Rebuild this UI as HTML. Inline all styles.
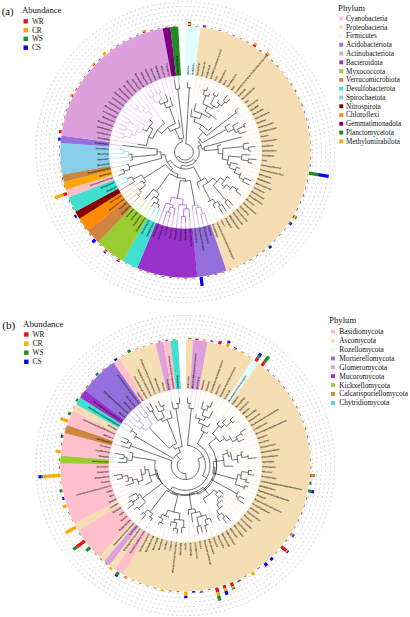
<!DOCTYPE html>
<html><head><meta charset="utf-8"><title>Figure</title>
<style>html,body{margin:0;padding:0;background:#fff;}svg{display:block;}text{font-family:"Liberation Serif",serif;}.tl text{font-family:"Liberation Sans",sans-serif;}</style></head>
<body>
<svg width="410" height="617" viewBox="0 0 410 617">
<g transform="translate(0 151.99) scale(1 1.0055) translate(0 -151.3)">
<g fill="none" stroke="#b4b4b4" stroke-width="0.6" stroke-dasharray="1.8 2.6">
<circle cx="185.3" cy="151.3" r="127.3"/>
<circle cx="185.3" cy="151.3" r="131.7"/>
<circle cx="185.3" cy="151.3" r="136.1"/>
<circle cx="185.3" cy="151.3" r="140.5"/>
<circle cx="185.3" cy="151.3" r="144.9"/>
<circle cx="185.3" cy="151.3" r="149.3"/>
</g>
<path d="M185.53 75L185.67 26.3A125 125 0 0 1 200.6 27.24L194.64 75.57A76.3 76.3 0 0 0 185.53 75Z" fill="#E0FFFF"/>
<path d="M194.56 75.56L200.47 27.22A125 125 0 0 1 226.35 269.37L210.35 223.37A76.3 76.3 0 0 0 194.56 75.56Z" fill="#F5DEB3"/>
<path d="M210.43 223.34L226.47 269.33A125 125 0 0 1 197.22 275.73L192.57 227.25A76.3 76.3 0 0 0 210.43 223.34Z" fill="#9370DB"/>
<path d="M192.65 227.24L197.35 275.72A125 125 0 0 1 137.2 266.68L155.94 221.73A76.3 76.3 0 0 0 192.65 227.24Z" fill="#9932CC"/>
<path d="M156.02 221.76L137.32 266.73A125 125 0 0 1 122.55 259.41L147 217.29A76.3 76.3 0 0 0 156.02 221.76Z" fill="#40E0D0"/>
<path d="M147.07 217.33L122.67 259.48A125 125 0 0 1 98.11 240.87L132.08 205.97A76.3 76.3 0 0 0 147.07 217.33Z" fill="#9ACD32"/>
<path d="M132.13 206.03L98.2 240.96A125 125 0 0 1 87.98 229.74L125.89 199.18A76.3 76.3 0 0 0 132.13 206.03Z" fill="#CD853F"/>
<path d="M125.95 199.24L88.06 229.85A125 125 0 0 1 79.37 217.67L120.64 191.81A76.3 76.3 0 0 0 125.95 199.24Z" fill="#FF8C00"/>
<path d="M120.69 191.88L79.44 217.78A125 125 0 0 1 75.31 210.7L118.16 187.55A76.3 76.3 0 0 0 120.69 191.88Z" fill="#8B0000"/>
<path d="M118.2 187.63L75.38 210.81A125 125 0 0 1 68.66 196.24L114.1 178.73A76.3 76.3 0 0 0 118.2 187.63Z" fill="#40E0D0"/>
<path d="M114.13 178.81L68.7 196.36A125 125 0 0 1 66 188.62L112.48 174.08A76.3 76.3 0 0 0 114.13 178.81Z" fill="#FFC0CB"/>
<path d="M112.5 174.15L66.04 188.74A125 125 0 0 1 63.89 181.05L111.19 169.46A76.3 76.3 0 0 0 112.5 174.15Z" fill="#FFA500"/>
<path d="M111.21 169.54L63.92 181.18A125 125 0 0 1 62.34 173.8L110.25 165.03A76.3 76.3 0 0 0 111.21 169.54Z" fill="#CD853F"/>
<path d="M110.26 165.11L62.37 173.93A125 125 0 0 1 60.62 142.3L109.2 145.8A76.3 76.3 0 0 0 110.26 165.11Z" fill="#87CEEB"/>
<path d="M109.19 145.88L60.62 142.43A125 125 0 0 1 61.38 134.92L109.66 141.3A76.3 76.3 0 0 0 109.19 145.88Z" fill="#9370DB"/>
<path d="M109.65 141.38L61.36 135.05A125 125 0 0 1 162.8 28.34L171.57 76.25A76.3 76.3 0 0 0 109.65 141.38Z" fill="#DDA0DD"/>
<path d="M171.49 76.26L162.67 28.37A125 125 0 0 1 170.35 27.2L176.17 75.55A76.3 76.3 0 0 0 171.49 76.26Z" fill="#800080"/>
<path d="M176.09 75.56L170.22 27.21A125 125 0 0 1 178.17 26.5L180.95 75.12A76.3 76.3 0 0 0 176.09 75.56Z" fill="#228B22"/>
<path d="M187.6 81.9L187.85 74.54M191.2 87.67L192.39 74.83" fill="none" stroke="#EAFFFF" stroke-width="0.6"/>
<path d="M191.92 108.29L196.98 75.39M195.8 102.9L201.59 76.25M202.74 89.43L206.13 77.38M207.71 87.07L210.6 78.79M209.5 93.52L214.97 80.46M214.42 92.19L219.24 82.41M218.28 93.52L223.38 84.6M219.1 99.68L227.37 87.05M227.49 94.72L231.21 89.73M229.7 98.77L234.88 92.65M216.35 118.81L238.36 95.78M212.24 126.35L241.65 99.12M238.66 107.61L244.73 102.65M237.41 113.7L247.58 106.36M229.56 123.3L250.2 110.24M237.97 122.32L252.59 114.28M245.47 122.83L254.72 118.45M245.12 127.34L256.59 122.74M246.13 131.14L258.2 127.14M241.66 136.37L259.54 131.63M221.1 144.12L260.6 136.19M249.04 142.51L261.38 140.81M255.05 145.99L261.88 145.47M251.24 150.31L262.09 150.15M249.96 154.28L262.02 154.84M256.48 158.95L261.66 159.51M252.1 162.63L261.02 164.15M237.78 163.54L260.09 168.74M239.94 167.61L258.89 173.27M241.15 171.75L257.42 177.71M251.27 180.14L255.67 182.06M249.39 184.11L253.66 186.29M229.97 177.72L251.4 190.4M238.23 187.13L248.9 194.35M241.22 194.36L246.15 198.15M229.17 189.55L243.18 201.77M222.68 188.14L240 205.21M233.15 204.59L236.61 208.44M229.94 207.57L233.03 211.47M226.52 210.33L229.27 214.26M222.33 211.88L225.35 216.83M214.94 207.2L221.28 219.15M207.83 200.87L217.08 221.22M199.28 187.82L212.76 223.02" fill="none" stroke="#F8E9CD" stroke-width="0.6"/>
<path d="M206.69 219.19L208.38 224.55M202.32 219.26L203.96 225.8M197.23 214.84L199.48 226.78M192.65 209.4L194.94 227.49M122.48 144.92L108.89 143.54" fill="none" stroke="#B8A2E7" stroke-width="0.6"/>
<path d="M189.53 216.01L190.31 227.94M185.58 221.25L185.61 228.1M181.48 218.01L180.9 227.97M178.8 205.88L176.21 227.56M173.77 214.68L171.56 226.86M169.44 215.78L166.96 225.88M164.95 216.52L162.42 224.61M163.33 209.01L157.97 223.07" fill="none" stroke="#BC79DD" stroke-width="0.6"/>
<path d="M157.22 212.99L153.48 221.2M152.05 213.24L148.98 218.97M120.91 183.51L116.61 185.66M121.9 178.11L114.57 181.22" fill="none" stroke="#82EAE0" stroke-width="0.6"/>
<path d="M151.57 205.57L144.76 216.53M151.6 198.74L140.82 213.91M141.37 205.72L137.06 211.06M141.96 198.7L133.48 207.98" fill="none" stroke="#BDDE79" stroke-width="0.6"/>
<path d="M133.57 201.38L130.12 204.72M133.14 196.05L127.01 201.3M126.49 163.91L110.21 167.4" fill="none" stroke="#DEAF82" stroke-width="0.6"/>
<path d="M138 187.2L124.13 197.73M139.58 181.91L121.48 194.02" fill="none" stroke="#FFB459" stroke-width="0.6"/>
<path d="M128.3 184.54L118.96 189.99" fill="none" stroke="#B35959" stroke-width="0.6"/>
<path d="M118.49 174.63L112.79 176.62" fill="none" stroke="#FFD6DD" stroke-width="0.6"/>
<path d="M121.27 169.18L111.33 171.95" fill="none" stroke="#FFC459" stroke-width="0.6"/>
<path d="M129.93 159.66L109.36 162.77M120 156.97L108.79 157.94M120.95 152.8L108.52 153.09M120.25 148.7L108.56 148.23" fill="none" stroke="#B1DFF2" stroke-width="0.6"/>
<path d="M137.52 143.55L109.49 139M119.47 136.53L110.36 134.48M120.34 132.57L111.51 130.02M117.95 127.43L112.91 125.64M119.2 123.31L114.58 121.35M124.46 121.12L116.5 117.17M125.1 116.8L118.67 113.11M140.02 121.61L121.07 109.19M143.62 120.26L123.71 105.42M131.7 106.13L126.57 101.81M136.93 105.32L129.64 98.39M143.38 106.37L132.91 95.15M146.31 104.14L136.36 92.11M162.11 119.56L140 89.29M147.73 92.82L143.79 86.68M150.3 88.88L147.73 84.31M153.91 86.5L151.81 82.18M159.58 88.96L156.01 80.3M165.52 93.8L160.32 78.68M170.13 96.79L164.71 77.31M178.43 119.31L169.18 76.21" fill="none" stroke="#E8C1E8" stroke-width="0.6"/>
<path d="M174.56 80.72L173.75 75.37" fill="none" stroke="#AC59AC" stroke-width="0.6"/>
<path d="M179.34 84.55L178.47 74.8" fill="none" stroke="#6FB36F" stroke-width="0.6"/>
<path d="M185.8 143.32A8 8 0 1 1 178.54 155.57M185.8 143.32L189.31 87.53M187.42 87.43A63.9 63.9 0 0 1 191.2 87.67M187.42 87.43L187.6 81.9M178.54 155.57L176.22 157.04M193.43 158.33A10.74 10.74 0 1 1 182.45 140.94M193.43 158.33L195.75 160.33M197.93 145.7A13.81 13.81 0 0 1 181.58 164.6M197.93 145.7L200.85 144.4M198.66 140.76A17.01 17.01 0 0 1 202.08 148.48M198.66 140.76L200.35 139.43M198.14 137.07A19.16 19.16 0 0 1 202.13 142.13M198.14 137.07L203.27 131.38M199.39 128.47A26.83 26.83 0 0 1 206.57 134.94M199.39 128.47L201.79 124.58M194.03 121.14A31.4 31.4 0 0 1 208.34 129.97M194.03 121.14L195.26 116.91M190.75 115.91A35.8 35.8 0 0 1 199.6 118.48M190.75 115.91L191.92 108.29M199.6 118.48L201.94 113.13M194.13 110.61A41.64 41.64 0 0 1 209.09 117.13M194.13 110.61L195.8 102.9M209.09 117.13L210.98 114.43M205 110.92A44.93 44.93 0 0 1 216.35 118.81M205 110.92L207.62 105.56M202.8 103.51A50.89 50.89 0 0 1 212.2 108.09M202.8 103.51L205.88 95.08M203.29 94.19A59.87 59.87 0 0 1 208.43 96.08M203.29 94.19L204.62 89.99M202.74 89.43A64.28 64.28 0 0 1 206.48 90.61M206.48 90.61L207.71 87.07M208.43 96.08L209.5 93.52M212.2 108.09L213.77 105.57M210.57 103.73A53.87 53.87 0 0 1 216.84 107.63M210.57 103.73L215.04 95.3M213.32 94.42A63.41 63.41 0 0 1 216.74 96.23M213.32 94.42L214.42 92.19M216.74 96.23L218.28 93.52M216.84 107.63L219.57 103.85M217.36 102.34A58.53 58.53 0 0 1 221.7 105.47M217.36 102.34L219.1 99.68M221.7 105.47L224.86 101.5M223.32 100.31A63.6 63.6 0 0 1 226.36 102.73M223.32 100.31L227.49 94.72M226.36 102.73L229.7 98.77M208.34 129.97L212.24 126.35M206.57 134.94L236.24 112.13M235.02 110.59A64.26 64.26 0 0 1 237.41 113.7M235.02 110.59L238.66 107.61M202.13 142.13L226.39 128.9M224.85 126.28A46.8 46.8 0 0 1 227.75 131.6M224.85 126.28L229.56 123.3M227.75 131.6L234.17 128.63M232.5 125.33A53.87 53.87 0 0 1 235.61 132.03M232.5 125.33L237.97 122.32M235.61 132.03L238.58 130.9M237.59 128.48A57.05 57.05 0 0 1 239.45 133.35M237.59 128.48L244.36 125.53M243.54 123.74A64.44 64.44 0 0 1 245.12 127.34M243.54 123.74L245.47 122.83M239.45 133.35L246.13 131.14M202.08 148.48L204.43 148.08M204.06 146.33A19.4 19.4 0 0 1 204.65 149.86M204.06 146.33L241.66 136.37M204.65 149.86L218.16 148.85M217.61 144.82A32.95 32.95 0 0 1 218.21 152.91M217.61 144.82L221.1 144.12M218.21 152.91L222.81 153.14M222.7 147.88A37.55 37.55 0 0 1 222.19 158.36M222.7 147.88L243.37 145.99M243.07 143.34A58.32 58.32 0 0 1 243.56 148.65M243.07 143.34L249.04 142.51M243.56 148.65L248.77 148.41M248.65 146.48A63.54 63.54 0 0 1 248.83 150.35M248.65 146.48L255.05 145.99M248.83 150.35L251.24 150.31M222.19 158.36L228.13 159.49M228.72 155.3A43.6 43.6 0 0 1 227.13 163.61M228.72 155.3L241.66 156.49M241.84 153.91A56.6 56.6 0 0 1 241.36 159.06M241.84 153.91L249.96 154.28M241.36 159.06L248.28 160.02M248.52 158.09A63.58 63.58 0 0 1 247.98 161.94M248.52 158.09L256.48 158.95M247.98 161.94L252.1 162.63M227.13 163.61L230.08 164.48M230.76 161.9A46.68 46.68 0 0 1 229.26 167.02M230.76 161.9L237.78 163.54M229.26 167.02L235.44 169.23M236.33 166.53A53.25 53.25 0 0 1 234.41 171.88M236.33 166.53L239.94 167.61M234.41 171.88L240.15 174.29M241.15 171.75A59.47 59.47 0 0 1 239.04 176.77M239.04 176.77L243.48 178.88M244.3 177.09A64.39 64.39 0 0 1 242.61 180.64M244.3 177.09L251.27 180.14M242.61 180.64L249.39 184.11M181.58 164.6L180.74 167.61M193.54 166.1A16.94 16.94 0 0 1 170.58 159.68M193.54 166.1L201.06 179.6M204.92 177.07A32.39 32.39 0 0 1 196.88 181.55M204.92 177.07L208.3 181.52M213.1 177.17A37.97 37.97 0 0 1 202.84 184.98M213.1 177.17L217.04 180.85M220.36 176.83A43.37 43.37 0 0 1 213.28 184.44M220.36 176.83L224.47 179.83M227.01 175.97A48.46 48.46 0 0 1 221.58 183.43M227.01 175.97L229.97 177.72M221.58 183.43L224.59 186.09M226.39 183.94A52.48 52.48 0 0 1 222.68 188.14M226.39 183.94L230.87 187.5M232.48 185.38A58.2 58.2 0 0 1 229.17 189.55M232.48 185.38L237.11 188.73M238.23 187.13A63.92 63.92 0 0 1 235.95 190.29M235.95 190.29L241.22 194.36M213.28 184.44L226.28 199.84M227.74 198.57A63.52 63.52 0 0 1 224.78 201.07M227.74 198.57L233.15 204.59M224.78 201.07L229.94 207.57M202.84 184.98L210.44 199.59M212.98 198.18A54.45 54.45 0 0 1 207.83 200.87M212.98 198.18L215.25 202.02M217.53 200.59A58.9 58.9 0 0 1 212.89 203.33M217.53 200.59L220.06 204.46M221.67 203.37A63.52 63.52 0 0 1 218.43 205.5M221.67 203.37L226.52 210.33M218.43 205.5L222.33 211.88M212.89 203.33L214.94 207.2M196.88 181.55L199.28 187.82M170.58 159.68L167.44 161.46M172.65 167.49A20.55 20.55 0 0 1 164.92 153.91M172.65 167.49L170.98 169.63M178.05 173.41A23.26 23.26 0 0 1 165.6 163.68M178.05 173.41L177.02 176.58M185.38 177.9A26.6 26.6 0 0 1 169.49 172.69M185.38 177.9L185.39 180.24M190.43 179.78A28.94 28.94 0 0 1 180.34 179.81M190.43 179.78L194.87 204.44M180.34 179.81L177.26 197.5M169.49 172.69L156.28 190.57M159.25 192.6A48.83 48.83 0 0 1 153.47 188.33M159.25 192.6L156.35 197.19M158.91 198.7A54.25 54.25 0 0 1 153.88 195.53M158.91 198.7L156.75 202.59M159.25 203.9A58.7 58.7 0 0 1 154.31 201.15M159.25 203.9L157.86 206.7M154.31 201.15L151.57 205.57M153.88 195.53L151.6 198.74M153.47 188.33L144.8 198.43M165.6 163.68L143.68 177.45M145.93 180.74A49.15 49.15 0 0 1 141.7 174M145.93 180.74L143.78 182.35M145.45 184.47A51.84 51.84 0 0 1 142.22 180.14M145.45 184.47L139.66 189.29M141.42 191.3A59.38 59.38 0 0 1 138 187.2M141.42 191.3L138.16 194.27M142.22 180.14L139.58 181.91M141.7 174L133.17 178.44M134.53 180.91A58.78 58.78 0 0 1 131.92 175.91M134.53 180.91L128.3 184.54M131.92 175.91L127 178.17M164.92 153.91L161.1 154.39M161.71 157.52A24.39 24.39 0 0 1 160.91 151.22M161.71 157.52L129.15 166.1M129.9 168.69A58.07 58.07 0 0 1 128.52 163.47M129.9 168.69L124.05 170.53M124.69 172.47A64.2 64.2 0 0 1 123.47 168.56M124.69 172.47L118.49 174.63M123.47 168.56L121.27 169.18M128.52 163.47L126.49 163.91M160.91 151.22L157.04 151.21M157.17 153.97A28.26 28.26 0 0 1 157.18 148.44M157.17 153.97L131.98 156.35M132.34 159.3A53.56 53.56 0 0 1 131.78 153.4M132.34 159.3L129.93 159.66M131.78 153.4L128.58 153.52M157.18 148.44L122.48 144.92M182.45 140.94L181.56 137.72M179.59 138.43A14.08 14.08 0 0 1 183.61 137.32M179.59 138.43L175.18 128.47M170.73 131.02A24.97 24.97 0 0 1 180.06 126.89M170.73 131.02L167.81 126.96M161.68 132.85A29.97 29.97 0 0 1 175.34 123.03M161.68 132.85L157.51 129.59M152.63 138A35.27 35.27 0 0 1 164.49 122.82M152.63 138L148.7 136.4M146.29 144.97A39.52 39.52 0 0 1 152.96 128.59M146.29 144.97L137.52 143.55M152.96 128.59L149.41 126.1M146.61 130.64A43.86 43.86 0 0 1 152.73 121.93M146.61 130.64L142.88 128.65M152.73 121.93L149.47 118.98M164.49 122.82L162.11 119.56M175.34 123.03L169.45 106.33M166.46 107.5A47.68 47.68 0 0 1 172.52 105.36M166.46 107.5L164.21 102.27M160.6 103.99A53.37 53.37 0 0 1 167.94 100.83M160.6 103.99L158.86 100.66M167.94 100.83L165.52 93.8M172.52 105.36L170.13 96.79M180.06 126.89L178.43 119.31M183.61 137.32L177.76 88.8M175.83 89.06A62.96 62.96 0 0 1 179.7 88.59M175.83 89.06L174.56 80.72M179.7 88.59L179.34 84.55" fill="none" stroke="#222" stroke-width="0.64" stroke-linejoin="miter"/>
<path d="M197.63 203.86A53.99 53.99 0 0 1 192.08 204.86M197.63 203.86L198.27 206.57M200.73 205.93A56.77 56.77 0 0 1 195.78 207.09M200.73 205.93L202.66 212.76M204.49 212.21A63.86 63.86 0 0 1 200.82 213.25M204.49 212.21L206.69 219.19M200.82 213.25L202.32 219.26M195.78 207.09L197.23 214.84M192.08 204.86L192.65 209.4" fill="none" stroke="#9370DB" stroke-width="0.64"/>
<path d="M182.97 198.14A46.9 46.9 0 0 1 171.67 196.17M182.97 198.14L182.69 203.92M186.32 203.98A52.69 52.69 0 0 1 179.07 203.62M186.32 203.98L186.4 207.93M189 207.82A56.64 56.64 0 0 1 183.79 207.92M189 207.82L189.53 216.01M183.79 207.92L183.59 215.37M185.56 215.39A64.09 64.09 0 0 1 181.63 215.29M185.56 215.39L185.58 221.25M181.63 215.29L181.48 218.01M179.07 203.62L178.8 205.88M171.67 196.17L169.53 203.24M173.14 204.2A54.28 54.28 0 0 1 165.99 202.03M173.14 204.2L172.56 206.76M175.12 207.28A56.9 56.9 0 0 1 170.02 206.11M175.12 207.28L173.77 214.68M170.02 206.11L168.65 211.04M170.49 211.52A62.01 62.01 0 0 1 166.83 210.5M170.49 211.52L169.44 215.78M166.83 210.5L164.95 216.52M165.99 202.03L163.33 209.01" fill="none" stroke="#9932CC" stroke-width="0.64"/>
<path d="M159.69 207.57A61.83 61.83 0 0 1 156.06 205.78M159.69 207.57L157.22 212.99M156.06 205.78L152.05 213.24M127.89 180.02A64.19 64.19 0 0 1 126.18 176.3M127.89 180.02L120.91 183.51M126.18 176.3L121.9 178.11" fill="none" stroke="#40E0D0" stroke-width="0.64"/>
<path d="M146.27 199.65A62.14 62.14 0 0 1 143.37 197.16M146.27 199.65L141.37 205.72M143.37 197.16L141.96 198.7" fill="none" stroke="#9ACD32" stroke-width="0.64"/>
<path d="M139.48 195.67A63.78 63.78 0 0 1 136.89 192.83M139.48 195.67L133.57 201.38M136.89 192.83L133.14 196.05" fill="none" stroke="#CD853F" stroke-width="0.64"/>
<path d="M128.75 156.21A56.76 56.76 0 0 1 128.54 150.83M128.75 156.21L120 156.97M128.54 150.83L123.71 150.79M123.73 152.74A61.59 61.59 0 0 1 123.76 148.84M123.73 152.74L120.95 152.8M123.76 148.84L120.25 148.7" fill="none" stroke="#87CEEB" stroke-width="0.64"/>
<path d="M141.02 132.55A48.09 48.09 0 0 1 145.08 124.93M141.02 132.55L136.55 130.66M134.9 135.12A52.94 52.94 0 0 1 138.6 126.37M134.9 135.12L131.12 133.91M130.18 137.18A56.9 56.9 0 0 1 132.26 130.69M130.18 137.18L123.96 135.59M123.52 137.43A63.32 63.32 0 0 1 124.46 133.76M123.52 137.43L119.47 136.53M124.46 133.76L120.34 132.57M132.26 130.69L126.08 128.29M125.42 130.08A63.53 63.53 0 0 1 126.8 126.53M125.42 130.08L117.95 127.43M126.8 126.53L119.2 123.31M138.6 126.37L129.22 121.36M128.35 123.05A63.57 63.57 0 0 1 130.14 119.69M128.35 123.05L124.46 121.12M130.14 119.69L125.1 116.8M145.08 124.93L140.02 121.61M146.6 122.47A48.25 48.25 0 0 1 152.65 115.77M146.6 122.47L143.62 120.26M152.65 115.77L148.26 111M146.19 112.99A54.74 54.74 0 0 1 150.42 109.11M146.19 112.99L143.21 110.07M141.4 112A58.92 58.92 0 0 1 145.11 108.22M141.4 112L137.44 108.46M136.18 109.91A64.24 64.24 0 0 1 138.74 107.04M136.18 109.91L131.7 106.13M138.74 107.04L136.93 105.32M145.11 108.22L143.38 106.37M150.42 109.11L146.31 104.14M155.88 102.33A57.13 57.13 0 0 1 161.94 99.17M155.88 102.33L152.34 96.44M150.71 97.45A64 64 0 0 1 154 95.48M150.71 97.45L147.73 92.82M154 95.48L150.3 88.88M161.94 99.17L159.04 92.69M157.3 93.5A64.22 64.22 0 0 1 160.81 91.93M157.3 93.5L153.91 86.5M160.81 91.93L159.58 88.96" fill="none" stroke="#DDA0DD" stroke-width="0.64"/>
<g class="tl" font-size="2.4" font-weight="bold" fill="#0a0a0a">
<text transform="translate(187.85 74.44) rotate(-88.1)" y="0.8" textLength="9" lengthAdjust="spacingAndGlyphs">Bacillus</text>
<text transform="translate(192.4 74.73) rotate(-84.7)" y="0.8" textLength="12" lengthAdjust="spacingAndGlyphs">Bradyrhizo</text>
<text transform="translate(197 75.29) rotate(-81.25)" y="0.8" textLength="13" lengthAdjust="spacingAndGlyphs">Novosphingo</text>
<text transform="translate(201.61 76.15) rotate(-77.76)" y="0.8" textLength="15" lengthAdjust="spacingAndGlyphs">Anaeromyxoba</text>
<text transform="translate(206.16 77.28) rotate(-74.26)" y="0.8" textLength="13" lengthAdjust="spacingAndGlyphs">Bradyrhizob</text>
<text transform="translate(210.63 78.69) rotate(-70.77)" y="0.8" textLength="31" lengthAdjust="spacingAndGlyphs">Ellin6067lysobacternocardi</text>
<text transform="translate(215.01 80.37) rotate(-67.27)" y="0.8" textLength="5" lengthAdjust="spacingAndGlyphs">Pseu</text>
<text transform="translate(219.28 82.32) rotate(-63.77)" y="0.8" textLength="14" lengthAdjust="spacingAndGlyphs">MND1mnd1novo</text>
<text transform="translate(223.42 84.52) rotate(-60.28)" y="0.8" textLength="6" lengthAdjust="spacingAndGlyphs">Nitro</text>
<text transform="translate(227.43 86.96) rotate(-56.78)" y="0.8" textLength="16" lengthAdjust="spacingAndGlyphs">Flavobacteriu</text>
<text transform="translate(231.27 89.65) rotate(-53.29)" y="0.8" textLength="5" lengthAdjust="spacingAndGlyphs">Mass</text>
<text transform="translate(234.94 92.57) rotate(-49.79)" y="0.8" textLength="48" lengthAdjust="spacingAndGlyphs">Lysobacterhaliangiumrhodanobactersteroid</text>
<text transform="translate(238.43 95.71) rotate(-46.3)" y="0.8" textLength="10" lengthAdjust="spacingAndGlyphs">Haliangi</text>
<text transform="translate(241.72 99.05) rotate(-42.8)" y="0.8" textLength="17" lengthAdjust="spacingAndGlyphs">Nocardioidesst</text>
<text transform="translate(244.8 102.59) rotate(-39.31)" y="0.8" textLength="5" lengthAdjust="spacingAndGlyphs">Ster</text>
<text transform="translate(247.66 106.3) rotate(-35.81)" y="0.8" textLength="13" lengthAdjust="spacingAndGlyphs">Nitrospirar</text>
<text transform="translate(250.29 110.19) rotate(-32.32)" y="0.8" textLength="9.5" lengthAdjust="spacingAndGlyphs">Ellin606</text>
<text transform="translate(252.67 114.23) rotate(-28.82)" y="0.8" textLength="12" lengthAdjust="spacingAndGlyphs">Bacillusde</text>
<text transform="translate(254.81 118.41) rotate(-25.32)" y="0.8" textLength="16" lengthAdjust="spacingAndGlyphs">Steroidobacte</text>
<text transform="translate(256.69 122.7) rotate(-21.83)" y="0.8" textLength="10" lengthAdjust="spacingAndGlyphs">Ramlibac</text>
<text transform="translate(258.3 127.11) rotate(-18.33)" y="0.8" textLength="16" lengthAdjust="spacingAndGlyphs">Nitrospiradev</text>
<text transform="translate(259.64 131.61) rotate(-14.84)" y="0.8" textLength="17.5" lengthAdjust="spacingAndGlyphs">Geobacterhalian</text>
<text transform="translate(260.7 136.17) rotate(-11.34)" y="0.8" textLength="8" lengthAdjust="spacingAndGlyphs">Bacillu</text>
<text transform="translate(261.48 140.8) rotate(-7.85)" y="0.8" textLength="15.29" lengthAdjust="spacingAndGlyphs">Gaiellalysoba</text>
<text transform="translate(261.98 145.46) rotate(-4.35)" y="0.8" textLength="11.47" lengthAdjust="spacingAndGlyphs">Ramlibacte</text>
<text transform="translate(262.19 150.15) rotate(-0.86)" y="0.8" textLength="14.11" lengthAdjust="spacingAndGlyphs">Gaiellamnd1m</text>
<text transform="translate(262.12 154.84) rotate(2.64)" y="0.8" textLength="12" lengthAdjust="spacingAndGlyphs">Ellin6067m</text>
<text transform="translate(261.76 159.52) rotate(6.13)" y="0.8" textLength="5" lengthAdjust="spacingAndGlyphs">Arth</text>
<text transform="translate(261.12 164.16) rotate(9.63)" y="0.8" textLength="20" lengthAdjust="spacingAndGlyphs">Anaeromyxobacterm</text>
<text transform="translate(260.19 168.76) rotate(13.13)" y="0.8" textLength="24" lengthAdjust="spacingAndGlyphs">Anaeromyxobactermyco</text>
<text transform="translate(258.99 173.3) rotate(16.62)" y="0.8" textLength="13" lengthAdjust="spacingAndGlyphs">Nitrospiran</text>
<text transform="translate(257.51 177.75) rotate(20.12)" y="0.8" textLength="14" lengthAdjust="spacingAndGlyphs">Gaiellastero</text>
<text transform="translate(255.76 182.1) rotate(23.61)" y="0.8" textLength="17" lengthAdjust="spacingAndGlyphs">Mesorhizobiumm</text>
<text transform="translate(253.75 186.34) rotate(27.11)" y="0.8" textLength="12" lengthAdjust="spacingAndGlyphs">Lysobacter</text>
<text transform="translate(251.49 190.45) rotate(30.6)" y="0.8" textLength="15" lengthAdjust="spacingAndGlyphs">Bacillusster</text>
<text transform="translate(248.98 194.41) rotate(34.1)" y="0.8" textLength="16" lengthAdjust="spacingAndGlyphs">Ellin6067rhod</text>
<text transform="translate(246.23 198.21) rotate(37.59)" y="0.8" textLength="10" lengthAdjust="spacingAndGlyphs">Mesorhiz</text>
<text transform="translate(243.26 201.84) rotate(41.09)" y="0.8" textLength="17" lengthAdjust="spacingAndGlyphs">Rhodanobactera</text>
<text transform="translate(240.07 205.28) rotate(44.58)" y="0.8" textLength="12" lengthAdjust="spacingAndGlyphs">Novosphing</text>
<text transform="translate(236.68 208.52) rotate(48.08)" y="0.8" textLength="16" lengthAdjust="spacingAndGlyphs">Nitrospirarho</text>
<text transform="translate(233.09 211.55) rotate(51.58)" y="0.8" textLength="15" lengthAdjust="spacingAndGlyphs">Bacillusarth</text>
<text transform="translate(229.33 214.35) rotate(55.07)" y="0.8" textLength="17" lengthAdjust="spacingAndGlyphs">MND1flavobacte</text>
<text transform="translate(225.4 216.91) rotate(58.57)" y="0.8" textLength="11.7" lengthAdjust="spacingAndGlyphs">Flavobacte</text>
<text transform="translate(221.33 219.24) rotate(62.06)" y="0.8" textLength="7" lengthAdjust="spacingAndGlyphs">Mesorh</text>
<text transform="translate(217.12 221.31) rotate(65.56)" y="0.8" textLength="40" lengthAdjust="spacingAndGlyphs">Geobactermesorhizobiumstreptomyce</text>
<text transform="translate(212.79 223.12) rotate(69.05)" y="0.8" textLength="14" lengthAdjust="spacingAndGlyphs">Ellin6067gai</text>
<text transform="translate(208.41 224.65) rotate(72.51)" y="0.8" textLength="10" lengthAdjust="spacingAndGlyphs">Haliangi</text>
<text transform="translate(203.99 225.9) rotate(75.94)" y="0.8" textLength="17" lengthAdjust="spacingAndGlyphs">Ellin6067micro</text>
<text transform="translate(199.5 226.88) rotate(79.36)" y="0.8" textLength="23" lengthAdjust="spacingAndGlyphs">Devosiamicrovirgaps</text>
<text transform="translate(194.95 227.59) rotate(82.79)" y="0.8" textLength="14" lengthAdjust="spacingAndGlyphs">Rhodanobacte</text>
<text transform="translate(190.32 228.04) rotate(86.26)" y="0.8" textLength="17" lengthAdjust="spacingAndGlyphs">Novosphingobiu</text>
<text transform="translate(185.61 228.2) rotate(89.77)" y="0.8" textLength="11" lengthAdjust="spacingAndGlyphs">Gaiellama</text>
<text transform="translate(180.21 240.05) rotate(273.28)" y="0.8" textLength="12" lengthAdjust="spacingAndGlyphs">Geobacterd</text>
<text transform="translate(174.9 238.58) rotate(276.79)" y="0.8" textLength="11" lengthAdjust="spacingAndGlyphs">Bradyrhiz</text>
<text transform="translate(169.57 237.78) rotate(280.31)" y="0.8" textLength="11" lengthAdjust="spacingAndGlyphs">Mesorhizo</text>
<text transform="translate(164.78 234.71) rotate(283.82)" y="0.8" textLength="9" lengthAdjust="spacingAndGlyphs">Arthroba</text>
<text transform="translate(158.1 238.45) rotate(287.33)" y="0.8" textLength="14.39" lengthAdjust="spacingAndGlyphs">Sphingomonas</text>
<text transform="translate(153.22 235.56) rotate(290.84)" y="0.8" textLength="13.26" lengthAdjust="spacingAndGlyphs">Devosianovo</text>
<text transform="translate(147.08 235.26) rotate(294.48)" y="0.8" textLength="15.35" lengthAdjust="spacingAndGlyphs">Ellin6067novo</text>
<text transform="translate(141.52 232.87) rotate(298.23)" y="0.8" textLength="15.67" lengthAdjust="spacingAndGlyphs">Gaiellabacill</text>
<text transform="translate(136.16 230.35) rotate(301.86)" y="0.8" textLength="16.18" lengthAdjust="spacingAndGlyphs">Streptomycesm</text>
<text transform="translate(133.2 224.65) rotate(305.39)" y="0.8" textLength="13.07" lengthAdjust="spacingAndGlyphs">Pseudomonas</text>
<text transform="translate(130.77 218.85) rotate(308.91)" y="0.8" textLength="9.91" lengthAdjust="spacingAndGlyphs">Arthroba</text>
<text transform="translate(126.32 215.81) rotate(312.44)" y="0.8" textLength="10.5" lengthAdjust="spacingAndGlyphs">Mesorhizo</text>
<text transform="translate(121.43 213.14) rotate(315.92)" y="0.8" textLength="12" lengthAdjust="spacingAndGlyphs">Ellin6067m</text>
<text transform="translate(119.34 207.88) rotate(319.38)" y="0.8" textLength="10" lengthAdjust="spacingAndGlyphs">Nocardio</text>
<text transform="translate(108.91 209.28) rotate(322.8)" y="0.8" textLength="19" lengthAdjust="spacingAndGlyphs">Streptomycesflav</text>
<text transform="translate(110.01 201.7) rotate(326.2)" y="0.8" textLength="13.7" lengthAdjust="spacingAndGlyphs">Devosiageob</text>
<text transform="translate(107.04 196.94) rotate(329.75)" y="0.8" textLength="13.7" lengthAdjust="spacingAndGlyphs">Mycobacteri</text>
<text transform="translate(106.69 190.62) rotate(333.43)" y="0.8" textLength="11" lengthAdjust="spacingAndGlyphs">Rhodanoba</text>
<text transform="translate(100.66 187.1) rotate(337.07)" y="0.8" textLength="15" lengthAdjust="spacingAndGlyphs">Sphingomonas</text>
<text transform="translate(90.04 184.57) rotate(340.75)" y="0.8" textLength="24" lengthAdjust="spacingAndGlyphs">Haliangiummicrovirga</text>
<text transform="translate(99 175.4) rotate(344.4)" y="0.8" textLength="12.7" lengthAdjust="spacingAndGlyphs">Bacilluspse</text>
<text transform="translate(87.62 172.24) rotate(347.9)" y="0.8" textLength="23" lengthAdjust="spacingAndGlyphs">Devosiaramlibactern</text>
<text transform="translate(97.4 164.57) rotate(351.41)" y="0.8" textLength="12" lengthAdjust="spacingAndGlyphs">Mesorhizob</text>
<text transform="translate(97.73 158.9) rotate(355.04)" y="0.8" textLength="11" lengthAdjust="spacingAndGlyphs">Nitrospir</text>
<text transform="translate(97.42 153.35) rotate(358.66)" y="0.8" textLength="11" lengthAdjust="spacingAndGlyphs">Microvirg</text>
<text transform="translate(95.47 147.71) rotate(362.29)" y="0.8" textLength="13" lengthAdjust="spacingAndGlyphs">Arthrobacte</text>
<text transform="translate(94.87 142.11) rotate(365.8)" y="0.8" textLength="14" lengthAdjust="spacingAndGlyphs">Streptomyces</text>
<text transform="translate(97.55 137.06) rotate(369.22)" y="0.8" textLength="12" lengthAdjust="spacingAndGlyphs">Novosphing</text>
<text transform="translate(96.61 131.39) rotate(372.65)" y="0.8" textLength="14" lengthAdjust="spacingAndGlyphs">Lysobacterst</text>
<text transform="translate(97 125.84) rotate(376.08)" y="0.8" textLength="15" lengthAdjust="spacingAndGlyphs">Geobacterlys</text>
<text transform="translate(97.74 120.26) rotate(379.52)" y="0.8" textLength="16" lengthAdjust="spacingAndGlyphs">Bradyrhizobiu</text>
<text transform="translate(102.52 116.25) rotate(382.95)" y="0.8" textLength="13" lengthAdjust="spacingAndGlyphs">Bacillusmnd</text>
<text transform="translate(102.97 110.46) rotate(386.38)" y="0.8" textLength="15" lengthAdjust="spacingAndGlyphs">Novosphingob</text>
<text transform="translate(104.7 105.11) rotate(389.82)" y="0.8" textLength="16" lengthAdjust="spacingAndGlyphs">Nitrospiramyc</text>
<text transform="translate(108.45 100.91) rotate(393.25)" y="0.8" textLength="15" lengthAdjust="spacingAndGlyphs">Lysobacterrh</text>
<text transform="translate(112.4 97) rotate(396.68)" y="0.8" textLength="14" lengthAdjust="spacingAndGlyphs">Lysobacterst</text>
<text transform="translate(114.26 91.44) rotate(400.12)" y="0.8" textLength="16" lengthAdjust="spacingAndGlyphs">Geobacternitr</text>
<text transform="translate(118.69 87.98) rotate(403.55)" y="0.8" textLength="15" lengthAdjust="spacingAndGlyphs">Devosiastrep</text>
<text transform="translate(123.29 84.84) rotate(406.98)" y="0.8" textLength="14" lengthAdjust="spacingAndGlyphs">Nitrospirast</text>
<text transform="translate(126.74 80.47) rotate(410.42)" y="0.8" textLength="15" lengthAdjust="spacingAndGlyphs">Bacillusnitr</text>
<text transform="translate(132.27 78.71) rotate(413.85)" y="0.8" textLength="13" lengthAdjust="spacingAndGlyphs">Mycobacteri</text>
<text transform="translate(135.09 73.14) rotate(417.28)" y="0.8" textLength="16" lengthAdjust="spacingAndGlyphs">Bacilluspseud</text>
<text transform="translate(140.84 72.02) rotate(420.72)" y="0.8" textLength="14" lengthAdjust="spacingAndGlyphs">Sphingomonas</text>
<text transform="translate(145.23 68.6) rotate(424.15)" y="0.8" textLength="15" lengthAdjust="spacingAndGlyphs">Ramlibacterg</text>
<text transform="translate(151.02 68.19) rotate(427.58)" y="0.8" textLength="13" lengthAdjust="spacingAndGlyphs">Devosiamicr</text>
<text transform="translate(155.73 65.34) rotate(431.02)" y="0.8" textLength="14" lengthAdjust="spacingAndGlyphs">Sphingomonas</text>
<text transform="translate(161.47 65.65) rotate(434.45)" y="0.8" textLength="12" lengthAdjust="spacingAndGlyphs">MND1steroi</text>
<text transform="translate(166.43 63.4) rotate(437.88)" y="0.8" textLength="13" lengthAdjust="spacingAndGlyphs">Flavobacter</text>
<text transform="translate(171.18 58.47) rotate(441.35)" y="0.8" textLength="17" lengthAdjust="spacingAndGlyphs">Nitrospiraelli</text>
<text transform="translate(176.78 55.78) rotate(444.9)" y="0.8" textLength="19" lengthAdjust="spacingAndGlyphs">Bradyrhizobiumst</text>
</g>
<rect transform="translate(189.45 26.07) rotate(1.9)" x="-1.6" y="-1.3" width="3.2" height="1.3" fill="#EE1111"/>
<rect transform="translate(189.5 24.77) rotate(1.9)" x="-1.6" y="-1.3" width="3.2" height="1.3" fill="#FFA500"/>
<rect transform="translate(189.54 23.47) rotate(1.9)" x="-1.6" y="-1.4" width="3.2" height="1.4" fill="#1E8B22"/>
<rect transform="translate(196.87 26.59) rotate(5.3)" x="-1.45" y="-0.6" width="2.9" height="0.6" fill="#B5443A"/>
<rect transform="translate(204.36 27.46) rotate(8.75)" x="-1.6" y="-1" width="3.2" height="1" fill="#EE1111"/>
<rect transform="translate(204.51 26.47) rotate(8.75)" x="-1.6" y="-1" width="3.2" height="1" fill="#0000FF"/>
<rect transform="translate(211.86 28.9) rotate(12.24)" x="-1.45" y="-0.6" width="2.9" height="0.6" fill="#E07A2A"/>
<rect transform="translate(219.27 30.75) rotate(15.74)" x="-1.45" y="-0.6" width="2.9" height="0.6" fill="#C23B30"/>
<rect transform="translate(226.56 33.04) rotate(19.23)" x="-1.45" y="-0.6" width="2.9" height="0.6" fill="#D9601E"/>
<rect transform="translate(233.69 35.78) rotate(22.73)" x="-1.45" y="-0.7" width="2.9" height="0.7" fill="#5A5AB0"/>
<rect transform="translate(240.65 38.94) rotate(26.23)" x="-1.45" y="-0.8" width="2.9" height="0.8" fill="#D9601E"/>
<rect transform="translate(247.4 42.53) rotate(29.72)" x="-1.45" y="-0.7" width="2.9" height="0.7" fill="#6B4A3A"/>
<rect transform="translate(253.94 46.47) rotate(33.22)" x="-1.6" y="-2" width="3.2" height="2" fill="#EE1111"/>
<rect transform="translate(255.03 44.8) rotate(33.22)" x="-1.6" y="-2" width="3.2" height="2" fill="#FFA500"/>
<rect transform="translate(260.17 50.89) rotate(36.71)" x="-1.45" y="-0.9" width="2.9" height="0.9" fill="#6B4A3A"/>
<rect transform="translate(266.19 55.61) rotate(40.21)" x="-1.6" y="-1.6" width="3.2" height="1.6" fill="#EE1111"/>
<rect transform="translate(267.22 54.38) rotate(40.21)" x="-1.6" y="-2.2" width="3.2" height="2.2" fill="#FFA500"/>
<rect transform="translate(271.84 60.75) rotate(43.7)" x="-1.45" y="-0.8" width="2.9" height="0.8" fill="#C23B30"/>
<rect transform="translate(277.2 66.2) rotate(47.2)" x="-1.45" y="-0.8" width="2.9" height="0.8" fill="#6B4A3A"/>
<rect transform="translate(282.21 71.96) rotate(50.69)" x="-1.45" y="-0.7" width="2.9" height="0.7" fill="#E07A2A"/>
<rect transform="translate(286.87 78.01) rotate(54.19)" x="-1.45" y="-0.6" width="2.9" height="0.6" fill="#D9601E"/>
<rect transform="translate(291.15 84.34) rotate(57.68)" x="-1.45" y="-0.7" width="2.9" height="0.7" fill="#4A7A4A"/>
<rect transform="translate(295.04 90.92) rotate(61.18)" x="-1.45" y="-0.9" width="2.9" height="0.9" fill="#9A3A3A"/>
<rect transform="translate(298.51 97.72) rotate(64.68)" x="-1.45" y="-0.6" width="2.9" height="0.6" fill="#4A7A4A"/>
<rect transform="translate(301.57 104.73) rotate(68.17)" x="-1.45" y="-0.9" width="2.9" height="0.9" fill="#9A3A3A"/>
<rect transform="translate(304.19 111.9) rotate(71.67)" x="-1.45" y="-0.7" width="2.9" height="0.7" fill="#3F4FC0"/>
<rect transform="translate(306.37 119.22) rotate(75.16)" x="-1.45" y="-0.9" width="2.9" height="0.9" fill="#D9601E"/>
<rect transform="translate(308.1 126.67) rotate(78.66)" x="-1.45" y="-0.6" width="2.9" height="0.6" fill="#6B4A3A"/>
<rect transform="translate(309.38 134.2) rotate(82.15)" x="-1.45" y="-0.8" width="2.9" height="0.8" fill="#D9601E"/>
<rect transform="translate(310.19 141.79) rotate(85.65)" x="-1.45" y="-0.6" width="2.9" height="0.6" fill="#D9601E"/>
<rect transform="translate(310.54 149.43) rotate(89.14)" x="-1.45" y="-0.7" width="2.9" height="0.7" fill="#E07A2A"/>
<rect transform="translate(310.42 157.07) rotate(92.64)" x="-1.45" y="-0.7" width="2.9" height="0.7" fill="#C23B30"/>
<rect transform="translate(309.83 164.68) rotate(96.13)" x="-1.45" y="-0.7" width="2.9" height="0.7" fill="#C23B30"/>
<rect transform="translate(308.83 172.26) rotate(99.63)" x="-1.6" y="-9.4" width="3.2" height="9.4" fill="#1E8B22"/>
<rect transform="translate(318.1 173.83) rotate(99.63)" x="-1.6" y="-10.7" width="3.2" height="10.7" fill="#0000FF"/>
<rect transform="translate(307.28 179.74) rotate(103.13)" x="-1.45" y="-0.6" width="2.9" height="0.6" fill="#C23B30"/>
<rect transform="translate(305.32 187.13) rotate(106.62)" x="-1.45" y="-0.6" width="2.9" height="0.6" fill="#C23B30"/>
<rect transform="translate(302.91 194.38) rotate(110.12)" x="-1.45" y="-0.9" width="2.9" height="0.9" fill="#3F4FC0"/>
<rect transform="translate(300.06 201.47) rotate(113.61)" x="-1.45" y="-0.8" width="2.9" height="0.8" fill="#3F4FC0"/>
<rect transform="translate(296.79 208.37) rotate(117.11)" x="-1.45" y="-0.8" width="2.9" height="0.8" fill="#C23B30"/>
<rect transform="translate(293.15 215.09) rotate(120.6)" x="-1.6" y="-1.2" width="3.2" height="1.2" fill="#EE1111"/>
<rect transform="translate(294.18 215.7) rotate(120.6)" x="-1.6" y="-1.5" width="3.2" height="1.5" fill="#FFA500"/>
<rect transform="translate(295.47 216.46) rotate(120.6)" x="-1.6" y="-1.3" width="3.2" height="1.3" fill="#1E8B22"/>
<rect transform="translate(289.06 221.54) rotate(124.1)" x="-1.6" y="-1.6" width="3.2" height="1.6" fill="#1E8B22"/>
<rect transform="translate(290.38 222.44) rotate(124.1)" x="-1.6" y="-1.6" width="3.2" height="1.6" fill="#0000FF"/>
<rect transform="translate(284.54 227.71) rotate(127.59)" x="-1.45" y="-0.7" width="2.9" height="0.7" fill="#C23B30"/>
<rect transform="translate(279.7 233.62) rotate(131.09)" x="-1.45" y="-0.6" width="2.9" height="0.6" fill="#3F4FC0"/>
<rect transform="translate(274.51 239.22) rotate(134.58)" x="-1.45" y="-0.7" width="2.9" height="0.7" fill="#5A5AB0"/>
<rect transform="translate(269.01 244.53) rotate(138.08)" x="-1.6" y="-1.2" width="3.2" height="1.2" fill="#1E8B22"/>
<rect transform="translate(269.81 245.43) rotate(138.08)" x="-1.6" y="-1.8" width="3.2" height="1.8" fill="#0000FF"/>
<rect transform="translate(263.14 249.42) rotate(141.58)" x="-1.45" y="-0.9" width="2.9" height="0.9" fill="#C23B30"/>
<rect transform="translate(257.01 253.99) rotate(145.07)" x="-1.45" y="-0.8" width="2.9" height="0.8" fill="#C23B30"/>
<rect transform="translate(250.62 258.17) rotate(148.57)" x="-1.45" y="-0.8" width="2.9" height="0.8" fill="#C23B30"/>
<rect transform="translate(243.98 261.95) rotate(152.06)" x="-1.45" y="-0.6" width="2.9" height="0.6" fill="#9A3A3A"/>
<rect transform="translate(237.13 265.32) rotate(155.56)" x="-1.45" y="-0.6" width="2.9" height="0.6" fill="#E07A2A"/>
<rect transform="translate(230.08 268.27) rotate(159.05)" x="-1.45" y="-0.6" width="2.9" height="0.6" fill="#C23B30"/>
<rect transform="translate(222.94 270.76) rotate(162.51)" x="-1.45" y="-0.8" width="2.9" height="0.8" fill="#D9601E"/>
<rect transform="translate(215.73 272.8) rotate(165.94)" x="-1.45" y="-0.7" width="2.9" height="0.7" fill="#9A3A3A"/>
<rect transform="translate(208.42 274.4) rotate(169.36)" x="-1.45" y="-0.9" width="2.9" height="0.9" fill="#E07A2A"/>
<rect transform="translate(201.03 275.61) rotate(172.79)" x="-1.6" y="-9" width="3.2" height="9" fill="#0000FF"/>
<rect transform="translate(193.48 276.28) rotate(176.26)" x="-1.45" y="-0.8" width="2.9" height="0.8" fill="#C23B30"/>
<rect transform="translate(185.81 276.55) rotate(179.77)" x="-1.45" y="-0.9" width="2.9" height="0.9" fill="#C23B30"/>
<rect transform="translate(178.13 276.34) rotate(183.28)" x="-1.45" y="-0.7" width="2.9" height="0.7" fill="#D9601E"/>
<rect transform="translate(170.48 275.67) rotate(186.79)" x="-1.45" y="-0.8" width="2.9" height="0.8" fill="#9A3A3A"/>
<rect transform="translate(162.89 274.53) rotate(190.31)" x="-1.45" y="-0.9" width="2.9" height="0.9" fill="#3F4FC0"/>
<rect transform="translate(155.38 272.92) rotate(193.82)" x="-1.45" y="-0.9" width="2.9" height="0.9" fill="#4A7A4A"/>
<rect transform="translate(147.99 270.86) rotate(197.33)" x="-1.45" y="-0.7" width="2.9" height="0.7" fill="#C23B30"/>
<rect transform="translate(140.73 268.35) rotate(200.84)" x="-1.45" y="-0.9" width="2.9" height="0.9" fill="#6B4A3A"/>
<rect transform="translate(133.41 265.3) rotate(204.47)" x="-1.45" y="-0.6" width="2.9" height="0.6" fill="#3F4FC0"/>
<rect transform="translate(126.06 261.66) rotate(208.22)" x="-1.45" y="-0.7" width="2.9" height="0.7" fill="#E07A2A"/>
<rect transform="translate(119.16 257.72) rotate(211.86)" x="-1.6" y="-1" width="3.2" height="1" fill="#EE1111"/>
<rect transform="translate(118.63 258.57) rotate(211.86)" x="-1.6" y="-0.8" width="3.2" height="0.8" fill="#FFA500"/>
<rect transform="translate(118.21 259.25) rotate(211.86)" x="-1.6" y="-1" width="3.2" height="1" fill="#0000FF"/>
<rect transform="translate(112.77 253.41) rotate(215.39)" x="-1.45" y="-0.8" width="2.9" height="0.8" fill="#D9601E"/>
<rect transform="translate(106.59 248.8) rotate(218.91)" x="-1.6" y="-1.2" width="3.2" height="1.2" fill="#EE1111"/>
<rect transform="translate(105.84 249.73) rotate(218.91)" x="-1.6" y="-1.2" width="3.2" height="1.2" fill="#FFA500"/>
<rect transform="translate(105.09 250.66) rotate(218.91)" x="-1.6" y="-1.2" width="3.2" height="1.2" fill="#0000FF"/>
<rect transform="translate(100.78 243.74) rotate(222.44)" x="-1.45" y="-0.8" width="2.9" height="0.8" fill="#C23B30"/>
<rect transform="translate(95.28 238.46) rotate(225.92)" x="-1.6" y="-4" width="3.2" height="4" fill="#0000FF"/>
<rect transform="translate(90.24 232.85) rotate(229.38)" x="-1.45" y="-0.9" width="2.9" height="0.9" fill="#C23B30"/>
<rect transform="translate(85.53 227.03) rotate(232.8)" x="-1.45" y="-0.7" width="2.9" height="0.7" fill="#9A3A3A"/>
<rect transform="translate(81.22 220.98) rotate(236.2)" x="-1.45" y="-0.6" width="2.9" height="0.6" fill="#4A7A4A"/>
<rect transform="translate(77.06 214.42) rotate(239.75)" x="-1.6" y="-0.8" width="3.2" height="0.8" fill="#FFA500"/>
<rect transform="translate(76.37 214.83) rotate(239.75)" x="-1.6" y="-2" width="3.2" height="2" fill="#0000FF"/>
<rect transform="translate(73.28 207.33) rotate(243.43)" x="-1.45" y="-0.8" width="2.9" height="0.8" fill="#C23B30"/>
<rect transform="translate(69.94 200.09) rotate(247.07)" x="-1.45" y="-0.8" width="2.9" height="0.8" fill="#6B4A3A"/>
<rect transform="translate(67.01 192.61) rotate(250.75)" x="-1.6" y="-3.9" width="3.2" height="3.9" fill="#EE1111"/>
<rect transform="translate(63.32 193.9) rotate(250.75)" x="-1.6" y="-9" width="3.2" height="9" fill="#FFA500"/>
<rect transform="translate(64.66 184.98) rotate(254.4)" x="-1.45" y="-0.8" width="2.9" height="0.8" fill="#C23B30"/>
<rect transform="translate(62.83 177.55) rotate(257.9)" x="-1.45" y="-0.8" width="2.9" height="0.8" fill="#9A3A3A"/>
<rect transform="translate(61.45 170) rotate(261.41)" x="-1.45" y="-0.8" width="2.9" height="0.8" fill="#E07A2A"/>
<rect transform="translate(60.52 162.13) rotate(265.04)" x="-1.45" y="-0.6" width="2.9" height="0.6" fill="#D9601E"/>
<rect transform="translate(60.08 154.22) rotate(268.66)" x="-1.45" y="-0.6" width="2.9" height="0.6" fill="#3F4FC0"/>
<rect transform="translate(60.15 146.3) rotate(272.29)" x="-1.45" y="-0.8" width="2.9" height="0.8" fill="#B5443A"/>
<rect transform="translate(60.64 138.64) rotate(275.8)" x="-1.6" y="-2.5" width="3.2" height="2.5" fill="#0000FF"/>
<rect transform="translate(61.62 131.23) rotate(279.22)" x="-1.6" y="-2.5" width="3.2" height="2.5" fill="#EE1111"/>
<rect transform="translate(63.09 123.87) rotate(282.65)" x="-1.45" y="-0.8" width="2.9" height="0.8" fill="#D9601E"/>
<rect transform="translate(64.95 116.6) rotate(286.08)" x="-1.45" y="-0.6" width="2.9" height="0.6" fill="#9A3A3A"/>
<rect transform="translate(67.25 109.46) rotate(289.52)" x="-1.45" y="-0.8" width="2.9" height="0.8" fill="#5A5AB0"/>
<rect transform="translate(69.96 102.46) rotate(292.95)" x="-1.45" y="-0.9" width="2.9" height="0.9" fill="#5A5AB0"/>
<rect transform="translate(73.05 95.62) rotate(296.38)" x="-1.6" y="-1.2" width="3.2" height="1.2" fill="#EE1111"/>
<rect transform="translate(71.98 95.09) rotate(296.38)" x="-1.6" y="-1.8" width="3.2" height="1.8" fill="#FFA500"/>
<rect transform="translate(76.63 89.02) rotate(299.82)" x="-1.45" y="-0.9" width="2.9" height="0.9" fill="#9A3A3A"/>
<rect transform="translate(80.56 82.63) rotate(303.25)" x="-1.45" y="-0.6" width="2.9" height="0.6" fill="#C23B30"/>
<rect transform="translate(84.86 76.48) rotate(306.68)" x="-1.45" y="-0.6" width="2.9" height="0.6" fill="#B5443A"/>
<rect transform="translate(89.52 70.6) rotate(310.12)" x="-1.45" y="-0.9" width="2.9" height="0.9" fill="#3F4FC0"/>
<rect transform="translate(94.49 64.97) rotate(313.55)" x="-1.6" y="-1" width="3.2" height="1" fill="#EE1111"/>
<rect transform="translate(93.76 64.28) rotate(313.55)" x="-1.6" y="-1.5" width="3.2" height="1.5" fill="#FFA500"/>
<rect transform="translate(99.85 59.72) rotate(316.98)" x="-1.45" y="-0.8" width="2.9" height="0.8" fill="#4A7A4A"/>
<rect transform="translate(105.46 54.73) rotate(320.42)" x="-1.6" y="-3" width="3.2" height="3" fill="#FFA500"/>
<rect transform="translate(111.41 50.16) rotate(323.85)" x="-1.45" y="-0.8" width="2.9" height="0.8" fill="#D9601E"/>
<rect transform="translate(117.6 45.92) rotate(327.28)" x="-1.45" y="-0.8" width="2.9" height="0.8" fill="#9A3A3A"/>
<rect transform="translate(124.04 42.06) rotate(330.72)" x="-1.45" y="-0.8" width="2.9" height="0.8" fill="#C23B30"/>
<rect transform="translate(130.69 38.58) rotate(334.15)" x="-1.45" y="-0.8" width="2.9" height="0.8" fill="#5A5AB0"/>
<rect transform="translate(137.54 35.51) rotate(337.58)" x="-1.45" y="-0.7" width="2.9" height="0.7" fill="#3F4FC0"/>
<rect transform="translate(144.54 32.81) rotate(341.02)" x="-1.6" y="-1.5" width="3.2" height="1.5" fill="#EE1111"/>
<rect transform="translate(144.05 31.4) rotate(341.02)" x="-1.6" y="-1.5" width="3.2" height="1.5" fill="#FFA500"/>
<rect transform="translate(151.72 30.63) rotate(344.45)" x="-1.45" y="-0.7" width="2.9" height="0.7" fill="#C23B30"/>
<rect transform="translate(159.01 28.84) rotate(347.88)" x="-1.45" y="-0.7" width="2.9" height="0.7" fill="#E07A2A"/>
<rect transform="translate(166.46 27.47) rotate(351.35)" x="-1.45" y="-0.7" width="2.9" height="0.7" fill="#4A7A4A"/>
<rect transform="translate(174.17 26.55) rotate(354.9)" x="-1.45" y="-0.7" width="2.9" height="0.7" fill="#C23B30"/>
</g>
<g transform="translate(0 465.49) scale(1 1.0055) translate(0 -464.8)">
<g fill="none" stroke="#b4b4b4" stroke-width="0.6" stroke-dasharray="1.8 2.6">
<circle cx="185.3" cy="464.8" r="127.3"/>
<circle cx="185.3" cy="464.8" r="131.7"/>
<circle cx="185.3" cy="464.8" r="136.1"/>
<circle cx="185.3" cy="464.8" r="140.5"/>
<circle cx="185.3" cy="464.8" r="144.9"/>
<circle cx="185.3" cy="464.8" r="149.3"/>
</g>
<path d="M185.79 388.5L186.11 339.8A125 125 0 0 1 193.21 340.05L190.13 388.65A76.3 76.3 0 0 0 185.79 388.5Z" fill="#F5DEB3"/>
<path d="M190.05 388.65L193.08 340.04A125 125 0 0 1 207.71 341.83L198.98 389.74A76.3 76.3 0 0 0 190.05 388.65Z" fill="#DDA0DD"/>
<path d="M198.9 389.72L207.59 341.8A125 125 0 0 1 252.52 359.41L226.33 400.47A76.3 76.3 0 0 0 198.9 389.72Z" fill="#F5DEB3"/>
<path d="M226.26 400.43L252.41 359.34A125 125 0 0 1 258.47 363.46L229.96 402.94A76.3 76.3 0 0 0 226.26 400.43Z" fill="#E0FFFF"/>
<path d="M229.9 402.89L258.37 363.38A125 125 0 0 1 122.74 573.02L147.12 530.86A76.3 76.3 0 0 0 229.9 402.89Z" fill="#F5DEB3"/>
<path d="M147.18 530.9L122.86 573.09A125 125 0 0 1 114.45 567.78L142.05 527.66A76.3 76.3 0 0 0 147.18 530.9Z" fill="#FFC0CB"/>
<path d="M142.12 527.7L114.55 567.85A125 125 0 0 1 109.27 564.02L138.89 525.37A76.3 76.3 0 0 0 142.12 527.7Z" fill="#F5DEB3"/>
<path d="M138.96 525.41L109.38 564.1A125 125 0 0 1 103.99 559.74L135.67 522.75A76.3 76.3 0 0 0 138.96 525.41Z" fill="#DDA0DD"/>
<path d="M135.73 522.8L104.09 559.82A125 125 0 0 1 98.89 555.13L132.56 519.93A76.3 76.3 0 0 0 135.73 522.8Z" fill="#F5DEB3"/>
<path d="M132.61 519.99L98.99 555.22A125 125 0 0 1 78.12 529.12L119.88 504.06A76.3 76.3 0 0 0 132.61 519.99Z" fill="#FFC0CB"/>
<path d="M119.92 504.13L78.19 529.24A125 125 0 0 1 74.39 522.46L117.6 500A76.3 76.3 0 0 0 119.92 504.13Z" fill="#F5DEB3"/>
<path d="M117.64 500.07L74.45 522.58A125 125 0 0 1 60.32 462.77L109.01 463.56A76.3 76.3 0 0 0 117.64 500.07Z" fill="#FFC0CB"/>
<path d="M109.01 463.64L60.31 462.9A125 125 0 0 1 60.69 454.93L109.24 458.77A76.3 76.3 0 0 0 109.01 463.64Z" fill="#9ACD32"/>
<path d="M109.23 458.85L60.68 455.06A125 125 0 0 1 64.61 432.26L111.63 444.94A76.3 76.3 0 0 0 109.23 458.85Z" fill="#FFC0CB"/>
<path d="M111.61 445.01L64.58 432.38A125 125 0 0 1 66.99 424.45L113.08 440.17A76.3 76.3 0 0 0 111.61 445.01Z" fill="#CD853F"/>
<path d="M113.06 440.25L66.95 424.58A125 125 0 0 1 72.79 410.34L116.62 431.56A76.3 76.3 0 0 0 113.06 440.25Z" fill="#FFC0CB"/>
<path d="M116.59 431.63L72.73 410.46A125 125 0 0 1 76.22 403.76L118.72 427.54A76.3 76.3 0 0 0 116.59 431.63Z" fill="#F5DEB3"/>
<path d="M118.68 427.61L76.15 403.87A125 125 0 0 1 80.22 397.1L121.16 423.48A76.3 76.3 0 0 0 118.68 427.61Z" fill="#40E0D0"/>
<path d="M121.11 423.55L80.15 397.21A125 125 0 0 1 85.16 389.99L124.17 419.14A76.3 76.3 0 0 0 121.11 423.55Z" fill="#9932CC"/>
<path d="M124.12 419.2L85.08 390.1A125 125 0 0 1 113.57 362.43L141.51 402.31A76.3 76.3 0 0 0 124.12 419.2Z" fill="#9370DB"/>
<path d="M141.45 402.36L113.46 362.51A125 125 0 0 1 119.67 358.41L145.24 399.86A76.3 76.3 0 0 0 141.45 402.36Z" fill="#FFC0CB"/>
<path d="M145.17 399.9L119.56 358.48A125 125 0 0 1 155.55 343.39L167.14 390.69A76.3 76.3 0 0 0 145.17 399.9Z" fill="#F5DEB3"/>
<path d="M167.06 390.71L155.42 343.42A125 125 0 0 1 163.23 341.76L171.83 389.7A76.3 76.3 0 0 0 167.06 390.71Z" fill="#DDA0DD"/>
<path d="M171.75 389.71L163.1 341.79A125 125 0 0 1 170.46 340.68L176.24 389.04A76.3 76.3 0 0 0 171.75 389.71Z" fill="#FFC0CB"/>
<path d="M176.16 389.05L170.33 340.7A125 125 0 0 1 177.95 340.02L180.81 388.63A76.3 76.3 0 0 0 176.16 389.05Z" fill="#40E0D0"/>
<path d="M187.67 397.07L187.98 388.05M196.23 414.03L201.46 389.72M203.36 401.2L206.28 390.92M206.35 405.53L211 392.43M212.61 401.23L215.62 394.24M212.82 410.67L220.11 396.34M210.11 422.92L224.45 398.73M219.66 420.14L232.14 403.93M226.28 417.88L235.82 406.96M233.24 416.34L239.31 410.2M234.68 420.71L242.59 413.65M222.71 435.36L245.65 417.3M228.75 434.78L248.48 421.14M245.77 428.33L251.07 425.14M242.42 435.02L253.4 429.29M244.08 438.65L255.47 433.59M226.67 449.39L257.27 438M230.22 451.18L258.79 442.51M242.98 451.15L260.04 447.11M247.86 454.04L260.99 451.78M256.72 457.03L261.65 456.5M237.9 462.36L262.02 461.25M233.09 465.55L262.09 466.01M251.72 469.98L261.87 470.77M254.17 474.5L261.35 475.51M246.65 477.36L260.54 480.2M249.19 482.07L259.44 484.84M248.15 486.05L258.05 489.4M243.6 488.63L256.39 493.86M238.51 490.51L254.45 498.21M244.01 497.8L252.25 502.44M244.07 502.82L249.78 506.52M223.89 493.31L247.07 510.43M223.26 496.67L244.12 514.18M223.12 500.77L240.95 517.73M222.56 504.93L237.56 521.08M230.56 520.05L233.97 524.21M226.73 522.31L230.19 527.11M220.03 519.93L226.24 529.78M205.84 502.38L222.13 532.19M211.72 521.19L217.88 534.35M208.44 523.39L213.51 536.23M206.83 531.09L209.02 537.84M202.5 531.6L204.45 539.17M198.46 533.26L199.8 540.22M192.55 521.17L195.1 540.97M188.55 514.11L190.35 541.43M185.53 526.37L185.59 541.6M181.39 531.84L180.83 541.47M177.06 532.98L176.08 541.05M173.31 529.83L171.37 540.33M170.28 525.04L166.72 539.32M169.03 516.22L162.13 538.02M163 522.57L157.64 536.44M158.23 523.75L153.25 534.59M158.1 515.48L148.98 532.47M148.94 514.91L140.2 526.96M141.14 513.63L133.79 521.76M128.57 496.57L118.29 502.33M134.11 438.15L117.18 429.34M149.4 402.4L147 398.23M155.67 404.93L151.24 395.97M158.46 400.79L155.6 393.97M164.44 404.8L160.08 392.26M169.98 409.88L164.66 390.83" fill="none" stroke="#F8E9CD" stroke-width="0.6"/>
<path d="M191 403.04L192.36 388.33M193.86 408.36L196.82 388.87M141.82 518.51L136.98 524.49M171.78 401.2L169.33 389.68" fill="none" stroke="#E8C1E8" stroke-width="0.6"/>
<path d="M208.12 431.16L228.41 401.24" fill="none" stroke="#EAFFFF" stroke-width="0.6"/>
<path d="M150.43 520.07L144.32 529.75M139.91 509.23L130.42 518.52M134.09 508.64L126.96 514.74M127.6 507.87L123.75 510.74M128.47 501.58L120.83 506.53M145.55 483.95L116.11 498.14M139.03 483.66L114.18 493.79M125.97 484.79L112.52 489.33M125.63 480.87L111.14 484.77M116.94 478.74L110.05 480.14M114.05 474.78L109.24 475.46M140.76 468.25L108.73 470.73M144.75 465.42L108.51 465.97M119.3 457.56L108.96 456.43M115.47 452.76L109.62 451.75M129.77 451.67L110.56 447.13M120.7 440.58L113.39 437.84M122.54 436.79L115.17 433.5M146.65 406.14L143.05 400.67M176.09 403.36L173.92 388.85" fill="none" stroke="#FFD6DD" stroke-width="0.6"/>
<path d="M117.97 461.62L108.59 461.18" fill="none" stroke="#BDDE79" stroke-width="0.6"/>
<path d="M121.09 445.25L111.83 442.44" fill="none" stroke="#DEAF82" stroke-width="0.6"/>
<path d="M130.52 431.91L119.46 425.27M179.24 397.23L178.44 388.31" fill="none" stroke="#82EAE0" stroke-width="0.6"/>
<path d="M132.8 428.39L122.19 421.03" fill="none" stroke="#BC79DD" stroke-width="0.6"/>
<path d="M138.47 427.48L125.24 416.94M135.51 419.66L128.4 413.22M136.03 414.06L131.8 409.7M139.41 411.09L135.41 406.41M143.83 409.52L139.22 403.36" fill="none" stroke="#B8A2E7" stroke-width="0.6"/>
<path d="M185.8 472.78A8 8 0 0 1 180.11 458.71M185.8 472.78L186.19 478.83M197.84 458.45A14.05 14.05 0 1 1 172.06 460.08M197.84 458.45L203.36 455.66M187.46 444.68A20.24 20.24 0 0 1 202.79 474.98M187.46 444.68L191.4 408.04M188.92 407.83A57.08 57.08 0 0 1 193.86 408.36M188.92 407.83L189.23 402.91M187.46 402.82A62.02 62.02 0 0 1 191 403.04M187.46 402.82L187.67 397.07M202.79 474.98L206.67 477.23M197.32 443.2A24.72 24.72 0 1 1 172.47 485.93M197.32 443.2L203.91 431.38M200.9 429.87A38.26 38.26 0 0 1 206.77 433.14M200.9 429.87L203.38 424.3M198.61 422.49A44.35 44.35 0 0 1 207.91 426.65M198.61 422.49L199.87 418.5M195.52 417.35A48.54 48.54 0 0 1 204.1 420.05M195.52 417.35L196.23 414.03M204.1 420.05L205.63 416.4M202.07 415.05A52.5 52.5 0 0 1 209.09 418M202.07 415.05L204.08 409.09M201.36 408.24A58.79 58.79 0 0 1 206.75 410.06M201.36 408.24L203.36 401.2M206.75 410.06L208.25 406.24M206.35 405.53A62.89 62.89 0 0 1 210.13 407.02M210.13 407.02L212.61 401.23M209.09 418L212.82 410.67M207.91 426.65L210.11 422.92M206.77 433.14L208.12 431.16M172.47 485.93L170.16 489.72M194.7 492.4A29.16 29.16 0 0 1 156.47 469.18M194.7 492.4L194.94 493.11M212.01 478.24A29.91 29.91 0 0 1 172.35 491.76M212.01 478.24L213.32 478.9M215.88 457.81A31.37 31.37 0 0 1 197.91 493.52M215.88 457.81L215.97 457.79M208.73 443.8A31.46 31.46 0 0 1 215.52 473.53M208.73 443.8L216.3 437.01M212.44 433.23A41.63 41.63 0 0 1 219.64 441.26M212.44 433.23L219.19 425.38M217 423.6A51.99 51.99 0 0 1 221.28 427.28M217 423.6L219.66 420.14M221.28 427.28L224.47 423.95M222.53 422.17A56.6 56.6 0 0 1 226.33 425.82M222.53 422.17L226.28 417.88M226.33 425.82L231.41 420.99M230.03 419.58A63.61 63.61 0 0 1 232.75 422.44M230.03 419.58L233.24 416.34M232.75 422.44L234.68 420.71M219.64 441.26L224.57 437.89M222.71 435.36A47.61 47.61 0 0 1 226.26 440.53M226.26 440.53L230.74 437.88M228.75 434.78A52.81 52.81 0 0 1 232.5 441.11M232.5 441.11L237.27 438.72M236 436.33A58.15 58.15 0 0 1 238.43 441.17M236 436.33L241.47 433.26M240.46 431.53A64.42 64.42 0 0 1 242.42 435.02M240.46 431.53L245.77 428.33M238.43 441.17L244.08 438.65M215.52 473.53L213.92 473.07M215.03 466.76A29.79 29.79 0 0 1 211.49 479M215.03 466.76L213.59 466.66M213.4 461.05A28.35 28.35 0 0 1 212.67 472.2M213.4 461.05L223.81 459.66M222.63 454.03A38.85 38.85 0 0 1 224.15 465.41M222.63 454.03L227.71 452.56M226.67 449.39A44.14 44.14 0 0 1 228.52 455.8M228.52 455.8L231.25 455.23M230.22 451.18A46.94 46.94 0 0 1 231.92 459.36M231.92 459.36L237.6 458.7M237.05 455.07A52.65 52.65 0 0 1 237.9 462.36M237.05 455.07L241.49 454.23M240.94 451.63A57.17 57.17 0 0 1 241.92 456.86M240.94 451.63L242.98 451.15M241.92 456.86L248.17 455.98M247.86 454.04A63.48 63.48 0 0 1 248.41 457.94M248.41 457.94L256.72 457.03M224.15 465.41L233.09 465.55M212.67 472.2L236.74 478.7M237.81 473.86A53.29 53.29 0 0 1 235.23 483.43M237.81 473.86L241.23 474.45M241.72 470.97A56.76 56.76 0 0 1 240.53 477.9M241.72 470.97L248.39 471.69M248.58 469.73A63.47 63.47 0 0 1 248.15 473.65M248.58 469.73L251.72 469.98M248.15 473.65L254.17 474.5M240.53 477.9L246.24 479.26M246.65 477.36A62.63 62.63 0 0 1 245.76 481.14M245.76 481.14L249.19 482.07M235.23 483.43L244.32 486.81M244.97 484.97A62.99 62.99 0 0 1 243.6 488.63M244.97 484.97L248.15 486.05M211.49 479L237.25 492.96M238.51 490.51A59.09 59.09 0 0 1 235.89 495.34M235.89 495.34L238.42 496.87M239.39 495.21A62.05 62.05 0 0 1 237.4 498.51M239.39 495.21L244.01 497.8M237.4 498.51L244.07 502.82M197.91 493.52L196.61 490.56M203.12 486.57A28.14 28.14 0 0 1 189.27 492.66M203.12 486.57L209.15 493.94M214.12 489.04A37.66 37.66 0 0 1 203.36 497.84M214.12 489.04L217.17 491.61M218.8 489.55A41.65 41.65 0 0 1 215.42 493.56M218.8 489.55L223.89 493.31M215.42 493.56L219.2 497.17M221.2 494.93A46.87 46.87 0 0 1 217.06 499.27M221.2 494.93L223.26 496.67M217.06 499.27L219.22 501.62M221.57 499.3A50.06 50.06 0 0 1 216.72 503.77M221.57 499.3L223.12 500.77M216.72 503.77L219.67 507.43M222.56 504.93A54.76 54.76 0 0 1 216.61 509.72M216.61 509.72L219.45 513.79M221.69 512.15A59.72 59.72 0 0 1 217.14 515.33M221.69 512.15L224.35 515.61M225.91 514.37A64.08 64.08 0 0 1 222.76 516.79M225.91 514.37L230.56 520.05M222.76 516.79L226.73 522.31M217.14 515.33L220.03 519.93M203.36 497.84L205.84 502.38M189.27 492.66L191.5 508.33M194.77 507.74A43.97 43.97 0 0 1 188.19 508.67M194.77 507.74L195.63 511.65M199.77 510.55A47.98 47.98 0 0 1 191.42 512.39M199.77 510.55L201.29 515.36M205.54 513.82A53.03 53.03 0 0 1 196.92 516.54M205.54 513.82L207.38 518.26M209.84 517.18A57.84 57.84 0 0 1 204.87 519.23M209.84 517.18L211.72 521.19M204.87 519.23L206.61 524.08M208.44 523.39A62.99 62.99 0 0 1 204.76 524.71M204.76 524.71L206.83 531.09M196.92 516.54L198.85 525.13M200.72 524.68A61.84 61.84 0 0 1 196.98 525.52M200.72 524.68L202.5 531.6M196.98 525.52L198.46 533.26M191.42 512.39L192.55 521.17M188.19 508.67L188.55 514.11M172.35 491.76L171.89 492.71M177.81 494.85A30.97 30.97 0 0 1 166.52 489.43M177.81 494.85L173.76 511.09M179.94 512.21A47.71 47.71 0 0 1 167.77 509.17M179.94 512.21L179.19 518.85M183.82 519.18A54.4 54.4 0 0 1 174.61 518.13M183.82 519.18L183.62 526.34M185.53 526.37A61.57 61.57 0 0 1 181.72 526.26M181.72 526.26L181.39 531.84M174.61 518.13L173.97 521.31M176.61 521.78A57.64 57.64 0 0 1 171.35 520.72M176.61 521.78L175.73 527.54M177.68 527.81A63.47 63.47 0 0 1 173.79 527.21M177.68 527.81L177.06 532.98M173.79 527.21L173.31 529.83M171.35 520.72L170.28 525.04M167.77 509.17L165.48 514.96M169.03 516.22A53.93 53.93 0 0 1 162.03 513.45M162.03 513.45L160.48 516.7M162.93 517.79A57.52 57.52 0 0 1 158.1 515.48M162.93 517.79L161.21 521.85M163 522.57A61.92 61.92 0 0 1 159.46 521.07M159.46 521.07L158.23 523.75M166.52 489.43L150.16 510.87M152.81 512.78A57.94 57.94 0 0 1 147.63 508.82M152.81 512.78L150.58 516.06M152.26 517.16A61.91 61.91 0 0 1 148.94 514.91M152.26 517.16L150.43 520.07M147.63 508.82L144.35 512.65M145.67 513.76A62.99 62.99 0 0 1 143.05 511.52M145.67 513.76L141.82 518.51M143.05 511.52L141.14 513.63M156.47 469.18L155.19 469.38M158.07 478.45A30.46 30.46 0 0 1 155.25 459.86M158.07 478.45L159.08 477.94M161.96 482.55A29.33 29.33 0 0 1 157.11 472.88M161.96 482.55L142.48 497.37M145.62 501.13A53.8 53.8 0 0 1 139.7 493.34M145.62 501.13L138.46 507.69M139.91 509.23A63.51 63.51 0 0 1 137.05 506.1M137.05 506.1L134.09 508.64M139.7 493.34L137.36 494.8M138.88 497.09A56.55 56.55 0 0 1 135.96 492.43M138.88 497.09L132.77 501.35M134.01 503.08A64 64 0 0 1 131.58 499.57M134.01 503.08L127.6 507.87M131.58 499.57L128.47 501.58M135.96 492.43L128.57 496.57M157.11 472.88L149.64 475.02M151.88 480.9A37.1 37.1 0 0 1 148.42 468.84M151.88 480.9L145.55 483.95M148.42 468.84L144.99 469.22M145.58 472.98A40.56 40.56 0 0 1 144.75 465.42M145.58 472.98L141.55 473.81M143.02 479.23A44.67 44.67 0 0 1 140.76 468.25M143.02 479.23L138.01 480.94M139.03 483.66A49.97 49.97 0 0 1 137.15 478.17M137.15 478.17L132.67 479.41M133.54 482.24A54.62 54.62 0 0 1 131.96 476.54M133.54 482.24L125.97 484.79M131.96 476.54L128.1 477.39M128.75 480.03A58.57 58.57 0 0 1 127.58 474.72M128.75 480.03L125.63 480.87M127.58 474.72L122.11 475.66M122.47 477.61A64.12 64.12 0 0 1 121.8 473.7M122.47 477.61L116.94 478.74M121.8 473.7L114.05 474.78M155.25 459.86L132.41 456.11M131.93 459.79A53.6 53.6 0 0 1 133.14 452.47M131.93 459.79L126.75 459.31M126.56 462.03A58.8 58.8 0 0 1 127.07 456.6M126.56 462.03L117.97 461.62M127.07 456.6L123.97 456.16M123.73 458.05A61.94 61.94 0 0 1 124.26 454.28M123.73 458.05L119.3 457.56M124.26 454.28L115.47 452.76M133.14 452.47L129.77 451.67M172.06 460.08L130.47 445.26M129.62 447.85A58.21 58.21 0 0 1 131.45 442.71M129.62 447.85L121.09 445.25M131.45 442.71L127.83 441.23M127.13 442.99A62.12 62.12 0 0 1 128.57 439.48M127.13 442.99L120.7 440.58M128.57 439.48L122.54 436.79M180.11 458.71L176.23 454.16M173.22 457.77A13.98 13.98 0 0 1 180.28 451.75M173.22 457.77L135.41 435.79M134.11 438.15A57.71 57.71 0 0 1 136.82 433.48M136.82 433.48L131.63 430.13M130.52 431.91A63.89 63.89 0 0 1 132.8 428.39M180.28 451.75L178.4 446.87M174.93 448.63A19.21 19.21 0 0 1 182.16 445.85M174.93 448.63L172.57 444.95M169.01 447.75A23.58 23.58 0 0 1 176.61 442.88M169.01 447.75L149.01 426.83M176.61 442.88L167.14 418.97M162.43 421.13A49.3 49.3 0 0 1 172.05 417.31M162.43 421.13L161.08 418.57M157.92 420.37A52.19 52.19 0 0 1 164.37 416.99M157.92 420.37L151.87 410.56M150.25 411.59A63.72 63.72 0 0 1 153.53 409.57M150.25 411.59L146.65 406.14M153.53 409.57L149.4 402.4M164.37 416.99L161.51 410.47M159 411.65A59.31 59.31 0 0 1 164.09 409.42M159 411.65L155.67 404.93M164.09 409.42L162.58 405.48M160.74 406.22A63.52 63.52 0 0 1 164.44 404.8M160.74 406.22L158.46 400.79M172.05 417.31L169.98 409.88M182.16 445.85L175.92 408.2M173.37 408.69A57.37 57.37 0 0 1 178.48 407.84M173.37 408.69L171.78 401.2M178.48 407.84L177.92 403.12M176.09 403.36A62.12 62.12 0 0 1 179.75 402.92M179.75 402.92L179.24 397.23" fill="none" stroke="#222" stroke-width="0.64" stroke-linejoin="miter"/>
<path d="M145.83 430.14A52.53 52.53 0 0 1 152.46 423.8M145.83 430.14L141.87 426.67M140.1 428.78A57.79 57.79 0 0 1 143.74 424.64M140.1 428.78L138.47 427.48M143.74 424.64L138.93 420M137.53 421.49A64.48 64.48 0 0 1 140.38 418.54M137.53 421.49L135.51 419.66M140.38 418.54L136.03 414.06M152.46 423.8L146.55 416.42M145.03 417.68A61.99 61.99 0 0 1 148.11 415.21M145.03 417.68L139.41 411.09M148.11 415.21L143.83 409.52" fill="none" stroke="#9370DB" stroke-width="0.64"/>
<g class="tl" font-size="2.4" font-weight="bold" fill="#0a0a0a">
<text transform="translate(187.98 387.95) rotate(-88)" y="0.8" textLength="12" lengthAdjust="spacingAndGlyphs">MND1anaero</text>
<text transform="translate(192.37 388.23) rotate(-84.72)" y="0.8" textLength="35" lengthAdjust="spacingAndGlyphs">MND1ellin6067pseudomonasmnd1</text>
<text transform="translate(196.83 388.77) rotate(-81.38)" y="0.8" textLength="12" lengthAdjust="spacingAndGlyphs">Mesorhizob</text>
<text transform="translate(201.49 389.62) rotate(-77.85)" y="0.8" textLength="10" lengthAdjust="spacingAndGlyphs">Geobacte</text>
<text transform="translate(206.3 390.82) rotate(-74.15)" y="0.8" textLength="10" lengthAdjust="spacingAndGlyphs">Gaiellam</text>
<text transform="translate(211.03 392.33) rotate(-70.45)" y="0.8" textLength="34" lengthAdjust="spacingAndGlyphs">Ellin6067lysobacterbradyrhiz</text>
<text transform="translate(215.66 394.14) rotate(-66.75)" y="0.8" textLength="11" lengthAdjust="spacingAndGlyphs">Mesorhizo</text>
<text transform="translate(220.15 396.25) rotate(-63.05)" y="0.8" textLength="33" lengthAdjust="spacingAndGlyphs">Streptomycespseudomonasbacil</text>
<text transform="translate(224.5 398.64) rotate(-59.35)" y="0.8" textLength="10" lengthAdjust="spacingAndGlyphs">Rhodanob</text>
<text transform="translate(228.47 401.16) rotate(-55.85)" y="0.8" textLength="31" lengthAdjust="spacingAndGlyphs">Mycobacteriummicrovirganit</text>
<text transform="translate(232.2 403.85) rotate(-52.42)" y="0.8" textLength="9.5" lengthAdjust="spacingAndGlyphs">Geobacte</text>
<text transform="translate(235.89 406.88) rotate(-48.87)" y="0.8" textLength="13.17" lengthAdjust="spacingAndGlyphs">Novosphingo</text>
<text transform="translate(239.38 410.13) rotate(-45.31)" y="0.8" textLength="12.55" lengthAdjust="spacingAndGlyphs">Geobactern</text>
<text transform="translate(242.67 413.59) rotate(-41.76)" y="0.8" textLength="8.9" lengthAdjust="spacingAndGlyphs">MND1mas</text>
<text transform="translate(245.73 417.24) rotate(-38.2)" y="0.8" textLength="13.48" lengthAdjust="spacingAndGlyphs">Microvirgar</text>
<text transform="translate(248.56 421.08) rotate(-34.65)" y="0.8" textLength="14" lengthAdjust="spacingAndGlyphs">Geobacternov</text>
<text transform="translate(251.15 425.09) rotate(-31.09)" y="0.8" textLength="32" lengthAdjust="spacingAndGlyphs">Rhodanobacterlysobacterflav</text>
<text transform="translate(253.49 429.25) rotate(-27.54)" y="0.8" textLength="15.55" lengthAdjust="spacingAndGlyphs">Lysobacterbra</text>
<text transform="translate(255.56 433.54) rotate(-23.98)" y="0.8" textLength="34" lengthAdjust="spacingAndGlyphs">Microvirgastreptomycesdevosi</text>
<text transform="translate(257.36 437.96) rotate(-20.43)" y="0.8" textLength="10.22" lengthAdjust="spacingAndGlyphs">Sphingomo</text>
<text transform="translate(258.89 442.48) rotate(-16.87)" y="0.8" textLength="10.65" lengthAdjust="spacingAndGlyphs">Pseudomon</text>
<text transform="translate(260.13 447.09) rotate(-13.32)" y="0.8" textLength="16.12" lengthAdjust="spacingAndGlyphs">Rhodanobacter</text>
<text transform="translate(261.09 451.76) rotate(-9.76)" y="0.8" textLength="18.7" lengthAdjust="spacingAndGlyphs">Gaiellalysobacte</text>
<text transform="translate(261.75 456.49) rotate(-6.21)" y="0.8" textLength="16.48" lengthAdjust="spacingAndGlyphs">Steroidobacter</text>
<text transform="translate(262.12 461.24) rotate(-2.65)" y="0.8" textLength="12.04" lengthAdjust="spacingAndGlyphs">Gaiellalys</text>
<text transform="translate(262.19 466.01) rotate(0.9)" y="0.8" textLength="13.86" lengthAdjust="spacingAndGlyphs">Arthrobacter</text>
<text transform="translate(261.97 470.78) rotate(4.46)" y="0.8" textLength="10.08" lengthAdjust="spacingAndGlyphs">Microvir</text>
<text transform="translate(261.45 475.52) rotate(8.01)" y="0.8" textLength="14.78" lengthAdjust="spacingAndGlyphs">Nitrospirame</text>
<text transform="translate(260.64 480.22) rotate(11.57)" y="0.8" textLength="42" lengthAdjust="spacingAndGlyphs">Lysobactergeobacterrhodanobactermas</text>
<text transform="translate(259.54 484.86) rotate(15.12)" y="0.8" textLength="16.28" lengthAdjust="spacingAndGlyphs">Ellin6067micro</text>
<text transform="translate(258.15 489.43) rotate(18.68)" y="0.8" textLength="32.7" lengthAdjust="spacingAndGlyphs">Ramlibacterhaliangiumpseudo</text>
<text transform="translate(256.48 493.9) rotate(22.23)" y="0.8" textLength="10.05" lengthAdjust="spacingAndGlyphs">Rhodanob</text>
<text transform="translate(254.54 498.26) rotate(25.79)" y="0.8" textLength="30" lengthAdjust="spacingAndGlyphs">Bradyrhizobiumsphingomona</text>
<text transform="translate(252.33 502.49) rotate(29.34)" y="0.8" textLength="19.6" lengthAdjust="spacingAndGlyphs">Novosphingobiumm</text>
<text transform="translate(249.87 506.57) rotate(32.9)" y="0.8" textLength="11.28" lengthAdjust="spacingAndGlyphs">Arthrobac</text>
<text transform="translate(247.15 510.49) rotate(36.46)" y="0.8" textLength="15.99" lengthAdjust="spacingAndGlyphs">Devosiamnd1st</text>
<text transform="translate(244.2 514.24) rotate(40.01)" y="0.8" textLength="10.07" lengthAdjust="spacingAndGlyphs">Rhodanob</text>
<text transform="translate(241.02 517.8) rotate(43.57)" y="0.8" textLength="14.83" lengthAdjust="spacingAndGlyphs">Devosiamnd1s</text>
<text transform="translate(237.63 521.15) rotate(47.12)" y="0.8" textLength="13.16" lengthAdjust="spacingAndGlyphs">Geobacterps</text>
<text transform="translate(234.03 524.29) rotate(50.68)" y="0.8" textLength="14.7" lengthAdjust="spacingAndGlyphs">Microvirgaar</text>
<text transform="translate(230.25 527.19) rotate(54.23)" y="0.8" textLength="12.07" lengthAdjust="spacingAndGlyphs">MND1mesorh</text>
<text transform="translate(226.29 529.86) rotate(57.79)" y="0.8" textLength="16.23" lengthAdjust="spacingAndGlyphs">MND1lysobacter</text>
<text transform="translate(222.18 532.28) rotate(61.34)" y="0.8" textLength="15.01" lengthAdjust="spacingAndGlyphs">Bacillusrhoda</text>
<text transform="translate(217.93 534.44) rotate(64.9)" y="0.8" textLength="13.69" lengthAdjust="spacingAndGlyphs">Massiliafla</text>
<text transform="translate(213.55 536.32) rotate(68.45)" y="0.8" textLength="10.46" lengthAdjust="spacingAndGlyphs">Novosphin</text>
<text transform="translate(209.06 537.94) rotate(72.01)" y="0.8" textLength="15.9" lengthAdjust="spacingAndGlyphs">Arthrobactera</text>
<text transform="translate(204.47 539.27) rotate(75.56)" y="0.8" textLength="25" lengthAdjust="spacingAndGlyphs">Massiliadevosiastrept</text>
<text transform="translate(199.82 540.32) rotate(79.12)" y="0.8" textLength="7.5" lengthAdjust="spacingAndGlyphs">Nocard</text>
<text transform="translate(195.11 541.07) rotate(82.67)" y="0.8" textLength="16.44" lengthAdjust="spacingAndGlyphs">Arthrobacterme</text>
<text transform="translate(190.36 541.53) rotate(86.23)" y="0.8" textLength="13.6" lengthAdjust="spacingAndGlyphs">Novosphingo</text>
<text transform="translate(185.59 541.7) rotate(89.78)" y="0.8" textLength="7" lengthAdjust="spacingAndGlyphs">Lysoba</text>
<text transform="translate(180.08 554.26) rotate(273.34)" y="0.8" textLength="12.71" lengthAdjust="spacingAndGlyphs">Massiliafla</text>
<text transform="translate(172.35 571.92) rotate(276.89)" y="0.8" textLength="31" lengthAdjust="spacingAndGlyphs">Haliangiummesorhizobiumlys</text>
<text transform="translate(169.71 549.36) rotate(280.45)" y="0.8" textLength="9.08" lengthAdjust="spacingAndGlyphs">Lysobact</text>
<text transform="translate(164.27 549.12) rotate(284)" y="0.8" textLength="10" lengthAdjust="spacingAndGlyphs">Lysobact</text>
<text transform="translate(158.62 549.12) rotate(287.56)" y="0.8" textLength="11.54" lengthAdjust="spacingAndGlyphs">Nocardioid</text>
<text transform="translate(152.74 549.12) rotate(291.11)" y="0.8" textLength="13.49" lengthAdjust="spacingAndGlyphs">Microvirgag</text>
<text transform="translate(145.69 551.04) rotate(294.67)" y="0.8" textLength="18" lengthAdjust="spacingAndGlyphs">Rhodanobacterge</text>
<text transform="translate(139 551.06) rotate(298.22)" y="0.8" textLength="21" lengthAdjust="spacingAndGlyphs">Lysobactergaiellal</text>
<text transform="translate(130.39 551.83) rotate(302.25)" y="0.8" textLength="26" lengthAdjust="spacingAndGlyphs">Ellin6067pseudomonasba</text>
<text transform="translate(123.69 549.7) rotate(305.97)" y="0.8" textLength="28" lengthAdjust="spacingAndGlyphs">Gaiellagaiellamycobacte</text>
<text transform="translate(129.37 533.9) rotate(308.99)" y="0.8" textLength="12" lengthAdjust="spacingAndGlyphs">Gaiellalys</text>
<text transform="translate(113.6 544.09) rotate(312.12)" y="0.8" textLength="30" lengthAdjust="spacingAndGlyphs">Flavobacteriummesorhizobi</text>
<text transform="translate(119.25 529.46) rotate(315.61)" y="0.8" textLength="15.53" lengthAdjust="spacingAndGlyphs">Bradyrhizobiu</text>
<text transform="translate(120.8 520.01) rotate(319.44)" y="0.8" textLength="8" lengthAdjust="spacingAndGlyphs">Ramliba</text>
<text transform="translate(119.27 514.09) rotate(323.26)" y="0.8" textLength="5.5" lengthAdjust="spacingAndGlyphs">Halia</text>
<text transform="translate(112.68 511.8) rotate(327.09)" y="0.8" textLength="9.6" lengthAdjust="spacingAndGlyphs">Rhodanob</text>
<text transform="translate(109.83 507.07) rotate(330.75)" y="0.8" textLength="9.6" lengthAdjust="spacingAndGlyphs">Gaiellah</text>
<text transform="translate(108.81 501.65) rotate(334.27)" y="0.8" textLength="8" lengthAdjust="spacingAndGlyphs">Nocardi</text>
<text transform="translate(109.46 495.71) rotate(337.82)" y="0.8" textLength="5" lengthAdjust="spacingAndGlyphs">Micr</text>
<text transform="translate(106.74 491.28) rotate(341.38)" y="0.8" textLength="6" lengthAdjust="spacingAndGlyphs">Halia</text>
<text transform="translate(76.29 494.16) rotate(344.92)" y="0.8" textLength="36" lengthAdjust="spacingAndGlyphs">Arthrobacterstreptomycesmicrov</text>
<text transform="translate(101.13 481.96) rotate(348.48)" y="0.8" textLength="9" lengthAdjust="spacingAndGlyphs">Flavobac</text>
<text transform="translate(94.59 477.51) rotate(352.02)" y="0.8" textLength="14.7" lengthAdjust="spacingAndGlyphs">Rhodanobacte</text>
<text transform="translate(96.96 471.64) rotate(355.57)" y="0.8" textLength="11.7" lengthAdjust="spacingAndGlyphs">Rhodanobac</text>
<text transform="translate(96.81 466.15) rotate(359.12)" y="0.8" textLength="11.6" lengthAdjust="spacingAndGlyphs">Devosiarho</text>
<text transform="translate(92 460.4) rotate(362.7)" y="0.8" textLength="16.5" lengthAdjust="spacingAndGlyphs">Anaeromyxobact</text>
<text transform="translate(98.92 455.32) rotate(366.26)" y="0.8" textLength="10" lengthAdjust="spacingAndGlyphs">Bradyrhi</text>
<text transform="translate(95.72 449.36) rotate(369.78)" y="0.8" textLength="14" lengthAdjust="spacingAndGlyphs">Lysobacterga</text>
<text transform="translate(99.76 444.58) rotate(373.3)" y="0.8" textLength="11" lengthAdjust="spacingAndGlyphs">Flavobact</text>
<text transform="translate(96.71 437.83) rotate(376.93)" y="0.8" textLength="15.7" lengthAdjust="spacingAndGlyphs">Gaiellaarthro</text>
<text transform="translate(103.46 434.12) rotate(380.55)" y="0.8" textLength="10.5" lengthAdjust="spacingAndGlyphs">MND1devos</text>
<text transform="translate(83.11 419.2) rotate(384.05)" y="0.8" textLength="35" lengthAdjust="spacingAndGlyphs">Arthrobacterellin6067microvir</text>
<text transform="translate(108.22 424.67) rotate(387.5)" y="0.8" textLength="10" lengthAdjust="spacingAndGlyphs">Nitrospi</text>
<text transform="translate(88.51 406.69) rotate(390.98)" y="0.8" textLength="36" lengthAdjust="spacingAndGlyphs">Massiliapseudomonashaliangiumn</text>
<text transform="translate(93.35 401.03) rotate(394.75)" y="0.8" textLength="35" lengthAdjust="spacingAndGlyphs">Devosialysobacterpseudomonasd</text>
<text transform="translate(118.9 411.89) rotate(398.55)" y="0.8" textLength="8" lengthAdjust="spacingAndGlyphs">Massili</text>
<text transform="translate(103.88 390.98) rotate(402.2)" y="0.8" textLength="33" lengthAdjust="spacingAndGlyphs">Sphingomonasgaielladevosiani</text>
<text transform="translate(124.06 401.74) rotate(405.84)" y="0.8" textLength="11" lengthAdjust="spacingAndGlyphs">Ramlibact</text>
<text transform="translate(126.25 395.7) rotate(409.48)" y="0.8" textLength="14" lengthAdjust="spacingAndGlyphs">Mycobacteriu</text>
<text transform="translate(117.56 374.48) rotate(413.13)" y="0.8" textLength="36" lengthAdjust="spacingAndGlyphs">Steroidobacternovosphingobiumm</text>
<text transform="translate(137.49 392.23) rotate(416.62)" y="0.8" textLength="10" lengthAdjust="spacingAndGlyphs">Anaeromy</text>
<text transform="translate(134.49 376.47) rotate(420.09)" y="0.8" textLength="25" lengthAdjust="spacingAndGlyphs">Nocardioidessphingomo</text>
<text transform="translate(137.89 368.99) rotate(423.67)" y="0.8" textLength="30" lengthAdjust="spacingAndGlyphs">Geobacterlysobacternitros</text>
<text transform="translate(140.87 358.84) rotate(427.25)" y="0.8" textLength="38" lengthAdjust="spacingAndGlyphs">Streptomycesmesorhizobiummicrovi</text>
<text transform="translate(155.12 378) rotate(430.83)" y="0.8" textLength="15" lengthAdjust="spacingAndGlyphs">Mycobacteriu</text>
<text transform="translate(162.21 382.06) rotate(434.41)" y="0.8" textLength="9" lengthAdjust="spacingAndGlyphs">Mesorhiz</text>
<text transform="translate(167.02 378.82) rotate(438)" y="0.8" textLength="11" lengthAdjust="spacingAndGlyphs">Streptomy</text>
<text transform="translate(169.01 356.11) rotate(441.48)" y="0.8" textLength="33" lengthAdjust="spacingAndGlyphs">Streptomycesanaeromyxobacter</text>
<text transform="translate(177.27 375.26) rotate(444.88)" y="0.8" textLength="13" lengthAdjust="spacingAndGlyphs">Mesorhizobi</text>
</g>
<rect transform="translate(189.67 339.58) rotate(2)" x="-1.6" y="-0.8" width="3.2" height="0.8" fill="#FFA500"/>
<rect transform="translate(189.7 338.78) rotate(2)" x="-1.6" y="-0.8" width="3.2" height="0.8" fill="#1E8B22"/>
<rect transform="translate(196.82 340.03) rotate(5.28)" x="-1.6" y="-1.5" width="3.2" height="1.5" fill="#EE1111"/>
<rect transform="translate(204.09 340.92) rotate(8.62)" x="-1.6" y="-1.5" width="3.2" height="1.5" fill="#FFA500"/>
<rect transform="translate(211.67 342.31) rotate(12.15)" x="-1.6" y="-0.8" width="3.2" height="0.8" fill="#FFA500"/>
<rect transform="translate(211.84 341.52) rotate(12.15)" x="-1.6" y="-0.9" width="3.2" height="0.9" fill="#0000FF"/>
<rect transform="translate(219.52 344.26) rotate(15.85)" x="-1.6" y="-3.3" width="3.2" height="3.3" fill="#EE1111"/>
<rect transform="translate(227.23 346.72) rotate(19.55)" x="-1.6" y="-4" width="3.2" height="4" fill="#FFA500"/>
<rect transform="translate(228.57 342.95) rotate(19.55)" x="-1.6" y="-2" width="3.2" height="2" fill="#0000FF"/>
<rect transform="translate(234.76 349.68) rotate(23.25)" x="-1.6" y="-0.7" width="3.2" height="0.7" fill="#EE1111"/>
<rect transform="translate(235.04 349.03) rotate(23.25)" x="-1.6" y="-0.7" width="3.2" height="0.7" fill="#FFA500"/>
<rect transform="translate(235.31 348.39) rotate(23.25)" x="-1.6" y="-0.8" width="3.2" height="0.8" fill="#0000FF"/>
<rect transform="translate(242.09 353.11) rotate(26.95)" x="-1.6" y="-1.5" width="3.2" height="1.5" fill="#FFA500"/>
<rect transform="translate(249.15 357.05) rotate(30.65)" x="-1.45" y="-0.6" width="2.9" height="0.6" fill="#E07A2A"/>
<rect transform="translate(255.64 361.11) rotate(34.15)" x="-1.6" y="-4" width="3.2" height="4" fill="#EE1111"/>
<rect transform="translate(257.88 357.8) rotate(34.15)" x="-1.6" y="-2.5" width="3.2" height="2.5" fill="#1E8B22"/>
<rect transform="translate(259.29 355.73) rotate(34.15)" x="-1.6" y="-3" width="3.2" height="3" fill="#0000FF"/>
<rect transform="translate(261.71 365.5) rotate(37.58)" x="-1.6" y="-4.5" width="3.2" height="4.5" fill="#EE1111"/>
<rect transform="translate(264.46 361.93) rotate(37.58)" x="-1.6" y="-7" width="3.2" height="7" fill="#1E8B22"/>
<rect transform="translate(267.69 370.46) rotate(41.13)" x="-1.45" y="-0.8" width="2.9" height="0.8" fill="#6B4A3A"/>
<rect transform="translate(273.38 375.75) rotate(44.69)" x="-1.45" y="-0.6" width="2.9" height="0.6" fill="#3F4FC0"/>
<rect transform="translate(278.73 381.39) rotate(48.24)" x="-1.45" y="-0.8" width="2.9" height="0.8" fill="#C23B30"/>
<rect transform="translate(283.73 387.34) rotate(51.8)" x="-1.45" y="-0.8" width="2.9" height="0.8" fill="#C23B30"/>
<rect transform="translate(288.34 393.59) rotate(55.35)" x="-1.45" y="-0.7" width="2.9" height="0.7" fill="#4A7A4A"/>
<rect transform="translate(292.56 400.12) rotate(58.91)" x="-1.45" y="-0.7" width="2.9" height="0.7" fill="#9A3A3A"/>
<rect transform="translate(296.36 406.89) rotate(62.46)" x="-1.45" y="-0.9" width="2.9" height="0.9" fill="#C23B30"/>
<rect transform="translate(299.74 413.89) rotate(66.02)" x="-1.45" y="-0.6" width="2.9" height="0.6" fill="#9A3A3A"/>
<rect transform="translate(302.67 421.09) rotate(69.57)" x="-1.45" y="-0.7" width="2.9" height="0.7" fill="#4A7A4A"/>
<rect transform="translate(305.16 428.45) rotate(73.13)" x="-1.45" y="-0.9" width="2.9" height="0.9" fill="#B5443A"/>
<rect transform="translate(307.18 435.95) rotate(76.68)" x="-1.45" y="-0.7" width="2.9" height="0.7" fill="#5A5AB0"/>
<rect transform="translate(308.74 443.56) rotate(80.24)" x="-1.45" y="-0.7" width="2.9" height="0.7" fill="#3F4FC0"/>
<rect transform="translate(309.82 451.26) rotate(83.79)" x="-1.45" y="-0.6" width="2.9" height="0.6" fill="#D9601E"/>
<rect transform="translate(310.42 459.01) rotate(87.35)" x="-1.45" y="-0.6" width="2.9" height="0.6" fill="#9A3A3A"/>
<rect transform="translate(310.53 466.78) rotate(90.9)" x="-1.45" y="-0.8" width="2.9" height="0.8" fill="#C23B30"/>
<rect transform="translate(310.22 474.54) rotate(94.46)" x="-1.6" y="-1.5" width="3.2" height="1.5" fill="#EE1111"/>
<rect transform="translate(311.72 474.66) rotate(94.46)" x="-1.6" y="-1.5" width="3.2" height="1.5" fill="#FFA500"/>
<rect transform="translate(313.21 474.78) rotate(94.46)" x="-1.6" y="-1.5" width="3.2" height="1.5" fill="#1E8B22"/>
<rect transform="translate(309.38 482.27) rotate(98.01)" x="-1.6" y="-2" width="3.2" height="2" fill="#1E8B22"/>
<rect transform="translate(308.05 489.93) rotate(101.57)" x="-1.6" y="-3.5" width="3.2" height="3.5" fill="#1E8B22"/>
<rect transform="translate(311.48 490.63) rotate(101.57)" x="-1.6" y="-2.5" width="3.2" height="2.5" fill="#0000FF"/>
<rect transform="translate(306.21 497.48) rotate(105.12)" x="-1.45" y="-0.9" width="2.9" height="0.9" fill="#C23B30"/>
<rect transform="translate(303.95 504.91) rotate(108.68)" x="-1.45" y="-0.6" width="2.9" height="0.6" fill="#B5443A"/>
<rect transform="translate(301.24 512.19) rotate(112.23)" x="-1.45" y="-0.9" width="2.9" height="0.9" fill="#C23B30"/>
<rect transform="translate(298.07 519.29) rotate(115.79)" x="-1.45" y="-0.7" width="2.9" height="0.7" fill="#9A3A3A"/>
<rect transform="translate(294.48 526.18) rotate(119.34)" x="-1.45" y="-0.6" width="2.9" height="0.6" fill="#C23B30"/>
<rect transform="translate(290.5 532.86) rotate(122.9)" x="-1.6" y="-1" width="3.2" height="1" fill="#EE1111"/>
<rect transform="translate(291.34 533.4) rotate(122.9)" x="-1.6" y="-1" width="3.2" height="1" fill="#FFA500"/>
<rect transform="translate(292.18 533.95) rotate(122.9)" x="-1.6" y="-1" width="3.2" height="1" fill="#1E8B22"/>
<rect transform="translate(293.02 534.49) rotate(122.9)" x="-1.6" y="-1.2" width="3.2" height="1.2" fill="#0000FF"/>
<rect transform="translate(286.04 539.22) rotate(126.46)" x="-1.45" y="-0.9" width="2.9" height="0.9" fill="#4A7A4A"/>
<rect transform="translate(281.27 545.36) rotate(130.01)" x="-1.6" y="-6.5" width="3.2" height="6.5" fill="#EE1111"/>
<rect transform="translate(286.25 549.54) rotate(130.01)" x="-1.6" y="-1.2" width="3.2" height="1.2" fill="#FFA500"/>
<rect transform="translate(287.17 550.31) rotate(130.01)" x="-1.6" y="-1.3" width="3.2" height="1.3" fill="#0000FF"/>
<rect transform="translate(276.05 551.12) rotate(133.57)" x="-1.45" y="-0.6" width="2.9" height="0.6" fill="#C23B30"/>
<rect transform="translate(270.56 556.62) rotate(137.12)" x="-1.6" y="-3" width="3.2" height="3" fill="#0000FF"/>
<rect transform="translate(264.7 561.73) rotate(140.68)" x="-1.6" y="-3.5" width="3.2" height="3.5" fill="#0000FF"/>
<rect transform="translate(258.51 566.42) rotate(144.23)" x="-1.45" y="-0.9" width="2.9" height="0.9" fill="#B5443A"/>
<rect transform="translate(252.1 570.81) rotate(147.79)" x="-1.6" y="-3.5" width="3.2" height="3.5" fill="#FFA500"/>
<rect transform="translate(245.37 574.71) rotate(151.34)" x="-1.45" y="-0.7" width="2.9" height="0.7" fill="#9A3A3A"/>
<rect transform="translate(238.46 578.26) rotate(154.9)" x="-1.6" y="-1" width="3.2" height="1" fill="#FFA500"/>
<rect transform="translate(238.88 579.17) rotate(154.9)" x="-1.6" y="-1" width="3.2" height="1" fill="#0000FF"/>
<rect transform="translate(231.32 581.34) rotate(158.45)" x="-1.6" y="-4" width="3.2" height="4" fill="#EE1111"/>
<rect transform="translate(232.79 585.06) rotate(158.45)" x="-1.6" y="-1.5" width="3.2" height="1.5" fill="#FFA500"/>
<rect transform="translate(233.34 586.46) rotate(158.45)" x="-1.6" y="-1.5" width="3.2" height="1.5" fill="#1E8B22"/>
<rect transform="translate(224.01 583.97) rotate(162.01)" x="-1.6" y="-3" width="3.2" height="3" fill="#EE1111"/>
<rect transform="translate(224.93 586.82) rotate(162.01)" x="-1.6" y="-3" width="3.2" height="3" fill="#FFA500"/>
<rect transform="translate(225.86 589.68) rotate(162.01)" x="-1.6" y="-3.8" width="3.2" height="3.8" fill="#0000FF"/>
<rect transform="translate(216.54 586.14) rotate(165.56)" x="-1.6" y="-4.9" width="3.2" height="4.9" fill="#EE1111"/>
<rect transform="translate(217.76 590.89) rotate(165.56)" x="-1.6" y="-3.6" width="3.2" height="3.6" fill="#FFA500"/>
<rect transform="translate(218.66 594.37) rotate(165.56)" x="-1.6" y="-4.9" width="3.2" height="4.9" fill="#1E8B22"/>
<rect transform="translate(208.95 587.8) rotate(169.12)" x="-1.45" y="-0.8" width="2.9" height="0.8" fill="#4A7A4A"/>
<rect transform="translate(201.28 589.08) rotate(172.67)" x="-1.6" y="-0.7" width="3.2" height="0.7" fill="#FFA500"/>
<rect transform="translate(201.37 589.77) rotate(172.67)" x="-1.6" y="-0.7" width="3.2" height="0.7" fill="#1E8B22"/>
<rect transform="translate(201.46 590.46) rotate(172.67)" x="-1.6" y="-0.7" width="3.2" height="0.7" fill="#0000FF"/>
<rect transform="translate(193.55 589.83) rotate(176.23)" x="-1.6" y="-1.5" width="3.2" height="1.5" fill="#0000FF"/>
<rect transform="translate(185.78 590.1) rotate(179.78)" x="-1.6" y="-4.5" width="3.2" height="4.5" fill="#FFA500"/>
<rect transform="translate(185.79 594.6) rotate(179.78)" x="-1.6" y="-2.3" width="3.2" height="2.3" fill="#0000FF"/>
<rect transform="translate(178.01 589.84) rotate(183.34)" x="-1.45" y="-0.9" width="2.9" height="0.9" fill="#B5443A"/>
<rect transform="translate(170.27 589.14) rotate(186.89)" x="-1.45" y="-0.9" width="2.9" height="0.9" fill="#6B4A3A"/>
<rect transform="translate(162.58 588.02) rotate(190.45)" x="-1.6" y="-2" width="3.2" height="2" fill="#FFA500"/>
<rect transform="translate(154.99 586.33) rotate(194)" x="-1.45" y="-0.8" width="2.9" height="0.8" fill="#5A5AB0"/>
<rect transform="translate(147.52 584.22) rotate(197.56)" x="-1.45" y="-0.6" width="2.9" height="0.6" fill="#9A3A3A"/>
<rect transform="translate(140.19 581.64) rotate(201.11)" x="-1.45" y="-0.7" width="2.9" height="0.7" fill="#B5443A"/>
<rect transform="translate(133.03 578.62) rotate(204.67)" x="-1.45" y="-0.7" width="2.9" height="0.7" fill="#D9601E"/>
<rect transform="translate(126.05 575.2) rotate(208.22)" x="-1.6" y="-0.7" width="3.2" height="0.7" fill="#EE1111"/>
<rect transform="translate(125.72 575.82) rotate(208.22)" x="-1.6" y="-0.7" width="3.2" height="0.7" fill="#FFA500"/>
<rect transform="translate(125.38 576.44) rotate(208.22)" x="-1.6" y="-0.7" width="3.2" height="0.7" fill="#1E8B22"/>
<rect transform="translate(118.44 570.77) rotate(212.25)" x="-1.6" y="-3" width="3.2" height="3" fill="#1E8B22"/>
<rect transform="translate(116.84 573.31) rotate(212.25)" x="-1.6" y="-2" width="3.2" height="2" fill="#0000FF"/>
<rect transform="translate(111.71 566.21) rotate(215.97)" x="-1.6" y="-2.5" width="3.2" height="2.5" fill="#FFA500"/>
<rect transform="translate(106.49 562.15) rotate(218.99)" x="-1.45" y="-0.8" width="2.9" height="0.8" fill="#6B4A3A"/>
<rect transform="translate(101.29 557.7) rotate(222.12)" x="-1.45" y="-0.9" width="2.9" height="0.9" fill="#C23B30"/>
<rect transform="translate(95.79 552.41) rotate(225.61)" x="-1.45" y="-0.9" width="2.9" height="0.9" fill="#E07A2A"/>
<rect transform="translate(90.11 546.28) rotate(229.44)" x="-1.6" y="-5" width="3.2" height="5" fill="#1E8B22"/>
<rect transform="translate(84.89 539.75) rotate(233.26)" x="-1.6" y="-10" width="3.2" height="10" fill="#EE1111"/>
<rect transform="translate(76.87 545.73) rotate(233.26)" x="-1.6" y="-4.4" width="3.2" height="4.4" fill="#1E8B22"/>
<rect transform="translate(80.15 532.86) rotate(237.09)" x="-1.45" y="-0.7" width="2.9" height="0.7" fill="#3F4FC0"/>
<rect transform="translate(75.98 526.02) rotate(240.75)" x="-1.6" y="-11.6" width="3.2" height="11.6" fill="#FFA500"/>
<rect transform="translate(72.46 519.17) rotate(244.28)" x="-1.45" y="-0.6" width="2.9" height="0.6" fill="#D9601E"/>
<rect transform="translate(69.31 512.07) rotate(247.82)" x="-1.45" y="-0.7" width="2.9" height="0.7" fill="#6B4A3A"/>
<rect transform="translate(66.56 504.82) rotate(251.38)" x="-1.6" y="-4" width="3.2" height="4" fill="#FFA500"/>
<rect transform="translate(64.31 497.39) rotate(254.92)" x="-1.6" y="-2" width="3.2" height="2" fill="#0000FF"/>
<rect transform="translate(62.53 489.83) rotate(258.48)" x="-1.6" y="-3" width="3.2" height="3" fill="#1E8B22"/>
<rect transform="translate(61.26 482.18) rotate(262.02)" x="-1.45" y="-0.7" width="2.9" height="0.7" fill="#D9601E"/>
<rect transform="translate(60.37 474.47) rotate(265.57)" x="-1.6" y="-17.5" width="3.2" height="17.5" fill="#FFA500"/>
<rect transform="translate(42.93 475.82) rotate(265.57)" x="-1.6" y="-1.5" width="3.2" height="1.5" fill="#1E8B22"/>
<rect transform="translate(41.43 475.93) rotate(265.57)" x="-1.6" y="-3" width="3.2" height="3" fill="#0000FF"/>
<rect transform="translate(60.06 466.71) rotate(269.12)" x="-1.45" y="-0.8" width="2.9" height="0.8" fill="#9A3A3A"/>
<rect transform="translate(60.19 458.9) rotate(272.7)" x="-1.45" y="-0.9" width="2.9" height="0.9" fill="#6B4A3A"/>
<rect transform="translate(60.75 451.14) rotate(276.26)" x="-1.6" y="-5" width="3.2" height="5" fill="#FFA500"/>
<rect transform="translate(61.87 443.52) rotate(279.78)" x="-1.45" y="-0.8" width="2.9" height="0.8" fill="#4A7A4A"/>
<rect transform="translate(63.36 435.97) rotate(283.3)" x="-1.6" y="-1.2" width="3.2" height="1.2" fill="#1E8B22"/>
<rect transform="translate(62.19 435.7) rotate(283.3)" x="-1.6" y="-1.3" width="3.2" height="1.3" fill="#0000FF"/>
<rect transform="translate(65.48 428.33) rotate(286.93)" x="-1.45" y="-0.7" width="2.9" height="0.7" fill="#D9601E"/>
<rect transform="translate(67.97 420.82) rotate(290.55)" x="-1.6" y="-8" width="3.2" height="8" fill="#FFA500"/>
<rect transform="translate(70.88 413.74) rotate(294.05)" x="-1.6" y="-3" width="3.2" height="3" fill="#1E8B22"/>
<rect transform="translate(74.2 406.97) rotate(297.5)" x="-1.45" y="-0.6" width="2.9" height="0.6" fill="#D9601E"/>
<rect transform="translate(77.87 400.3) rotate(300.98)" x="-1.6" y="-2" width="3.2" height="2" fill="#1E8B22"/>
<rect transform="translate(82.38 393.42) rotate(304.75)" x="-1.45" y="-0.7" width="2.9" height="0.7" fill="#D9601E"/>
<rect transform="translate(87.35 386.74) rotate(308.55)" x="-1.45" y="-0.9" width="2.9" height="0.9" fill="#B5443A"/>
<rect transform="translate(92.51 380.67) rotate(312.2)" x="-1.45" y="-0.7" width="2.9" height="0.7" fill="#B5443A"/>
<rect transform="translate(98.01 374.91) rotate(315.84)" x="-1.6" y="-2.5" width="3.2" height="2.5" fill="#1E8B22"/>
<rect transform="translate(103.93 369.58) rotate(319.48)" x="-1.45" y="-0.8" width="2.9" height="0.8" fill="#C23B30"/>
<rect transform="translate(110.15 364.6) rotate(323.13)" x="-1.45" y="-0.6" width="2.9" height="0.6" fill="#5A5AB0"/>
<rect transform="translate(116.37 360.16) rotate(326.62)" x="-1.6" y="-2" width="3.2" height="2" fill="#0000FF"/>
<rect transform="translate(122.85 356.23) rotate(330.09)" x="-1.45" y="-0.7" width="2.9" height="0.7" fill="#C23B30"/>
<rect transform="translate(129.72 352.5) rotate(333.67)" x="-1.6" y="-3" width="3.2" height="3" fill="#1E8B22"/>
<rect transform="translate(136.86 349.29) rotate(337.25)" x="-1.45" y="-0.8" width="2.9" height="0.8" fill="#E07A2A"/>
<rect transform="translate(144.17 346.5) rotate(340.83)" x="-1.45" y="-0.6" width="2.9" height="0.6" fill="#B5443A"/>
<rect transform="translate(151.64 344.16) rotate(344.41)" x="-1.45" y="-0.8" width="2.9" height="0.8" fill="#D9601E"/>
<rect transform="translate(159.26 342.29) rotate(348)" x="-1.45" y="-0.9" width="2.9" height="0.9" fill="#C23B30"/>
<rect transform="translate(166.73 340.93) rotate(351.48)" x="-1.45" y="-0.9" width="2.9" height="0.9" fill="#6B4A3A"/>
<rect transform="translate(174.11 340.05) rotate(354.88)" x="-1.45" y="-0.6" width="2.9" height="0.6" fill="#B5443A"/>
</g>
<g font-family="'Liberation Serif', serif" fill="#111">
<text x="1.8" y="14.9" font-size="10.6">(a)</text>
<text x="21.9" y="12.5" font-size="8.7">Abundance</text>
<rect x="23.5" y="19.15" width="4.4" height="4.4" fill="#EE1111"/>
<text x="31.9" y="23.85" font-size="7.4">WR</text>
<rect x="23.5" y="27.92" width="4.4" height="4.4" fill="#FFA500"/>
<text x="31.9" y="32.62" font-size="7.4">CR</text>
<rect x="23.5" y="36.69" width="4.4" height="4.4" fill="#1E8B22"/>
<text x="31.9" y="41.39" font-size="7.4">WS</text>
<rect x="23.5" y="45.46" width="4.4" height="4.4" fill="#0000FF"/>
<text x="31.9" y="50.16" font-size="7.4">CS</text>
<text x="2.2" y="328.7" font-size="11.3">(b)</text>
<text x="23" y="326.5" font-size="8.9">Abundance</text>
<rect x="24.1" y="332.3" width="4.4" height="4.4" fill="#EE1111"/>
<text x="32.5" y="337" font-size="7.4">WR</text>
<rect x="24.1" y="341.4" width="4.4" height="4.4" fill="#FFA500"/>
<text x="32.5" y="346.1" font-size="7.4">CR</text>
<rect x="24.1" y="350.5" width="4.4" height="4.4" fill="#1E8B22"/>
<text x="32.5" y="355.2" font-size="7.4">WS</text>
<rect x="24.1" y="359.6" width="4.4" height="4.4" fill="#0000FF"/>
<text x="32.5" y="364.3" font-size="7.4">CS</text>
<text x="338.1" y="11" font-size="8.7">Phylum</text>
<rect x="339.3" y="16.5" width="3.9" height="3.9" fill="#FFC0CB"/>
<text x="346" y="20.85" font-size="7.2">Cyanobacteria</text>
<rect x="339.3" y="25.28" width="3.9" height="3.9" fill="#F5DEB3"/>
<text x="346" y="29.63" font-size="7.2">Proteobacteria</text>
<rect x="339.3" y="34.06" width="3.9" height="3.9" fill="#E0FFFF"/>
<text x="346" y="38.41" font-size="7.2">Firmicutes</text>
<rect x="339.3" y="42.84" width="3.9" height="3.9" fill="#9370DB"/>
<text x="346" y="47.19" font-size="7.2">Acidobacteriota</text>
<rect x="339.3" y="51.62" width="3.9" height="3.9" fill="#DDA0DD"/>
<text x="346" y="55.97" font-size="7.2">Actinobacteriota</text>
<rect x="339.3" y="60.4" width="3.9" height="3.9" fill="#9932CC"/>
<text x="346" y="64.75" font-size="7.2">Bacteroidota</text>
<rect x="339.3" y="69.18" width="3.9" height="3.9" fill="#9ACD32"/>
<text x="346" y="73.53" font-size="7.2">Myxococcota</text>
<rect x="339.3" y="77.96" width="3.9" height="3.9" fill="#CD853F"/>
<text x="346" y="82.31" font-size="7.2">Verrucomicrobiota</text>
<rect x="339.3" y="86.74" width="3.9" height="3.9" fill="#40E0D0"/>
<text x="346" y="91.09" font-size="7.2">Desulfobacterota</text>
<rect x="339.3" y="95.52" width="3.9" height="3.9" fill="#87CEEB"/>
<text x="346" y="99.87" font-size="7.2">Spirochaetota</text>
<rect x="339.3" y="104.3" width="3.9" height="3.9" fill="#8B0000"/>
<text x="346" y="108.65" font-size="7.2">Nitrospirota</text>
<rect x="339.3" y="113.08" width="3.9" height="3.9" fill="#FF8C00"/>
<text x="346" y="117.43" font-size="7.2">Chloroflexi</text>
<rect x="339.3" y="121.86" width="3.9" height="3.9" fill="#800080"/>
<text x="346" y="126.21" font-size="7.2">Gemmatimonadota</text>
<rect x="339.3" y="130.64" width="3.9" height="3.9" fill="#228B22"/>
<text x="346" y="134.99" font-size="7.2">Planctomycetota</text>
<rect x="339.3" y="139.42" width="3.9" height="3.9" fill="#FFA500"/>
<text x="346" y="143.77" font-size="7.2">Methylomirabilota</text>
<text x="329.2" y="322.7" font-size="8.7">Phylum</text>
<rect x="331" y="329.75" width="3.9" height="3.9" fill="#FFC0CB"/>
<text x="339.3" y="334.1" font-size="7.36">Basidiomycota</text>
<rect x="331" y="338.65" width="3.9" height="3.9" fill="#F5DEB3"/>
<text x="339.3" y="343" font-size="7.36">Ascomycota</text>
<rect x="331" y="347.55" width="3.9" height="3.9" fill="#E0FFFF"/>
<text x="339.3" y="351.9" font-size="7.36">Rozellomycota</text>
<rect x="331" y="356.45" width="3.9" height="3.9" fill="#9370DB"/>
<text x="339.3" y="360.8" font-size="7.36">Mortierellomycota</text>
<rect x="331" y="365.35" width="3.9" height="3.9" fill="#DDA0DD"/>
<text x="339.3" y="369.7" font-size="7.36">Glomeromycota</text>
<rect x="331" y="374.25" width="3.9" height="3.9" fill="#9932CC"/>
<text x="339.3" y="378.6" font-size="7.36">Mucoromycota</text>
<rect x="331" y="383.15" width="3.9" height="3.9" fill="#9ACD32"/>
<text x="339.3" y="387.5" font-size="7.36">Kickxellomycota</text>
<rect x="331" y="392.05" width="3.9" height="3.9" fill="#CD853F"/>
<text x="339.3" y="396.4" font-size="7.36">Calcarisporiellomycota</text>
<rect x="331" y="400.95" width="3.9" height="3.9" fill="#40E0D0"/>
<text x="339.3" y="405.3" font-size="7.36">Chytridiomycota</text>
</g>
</svg>
</body></html>
